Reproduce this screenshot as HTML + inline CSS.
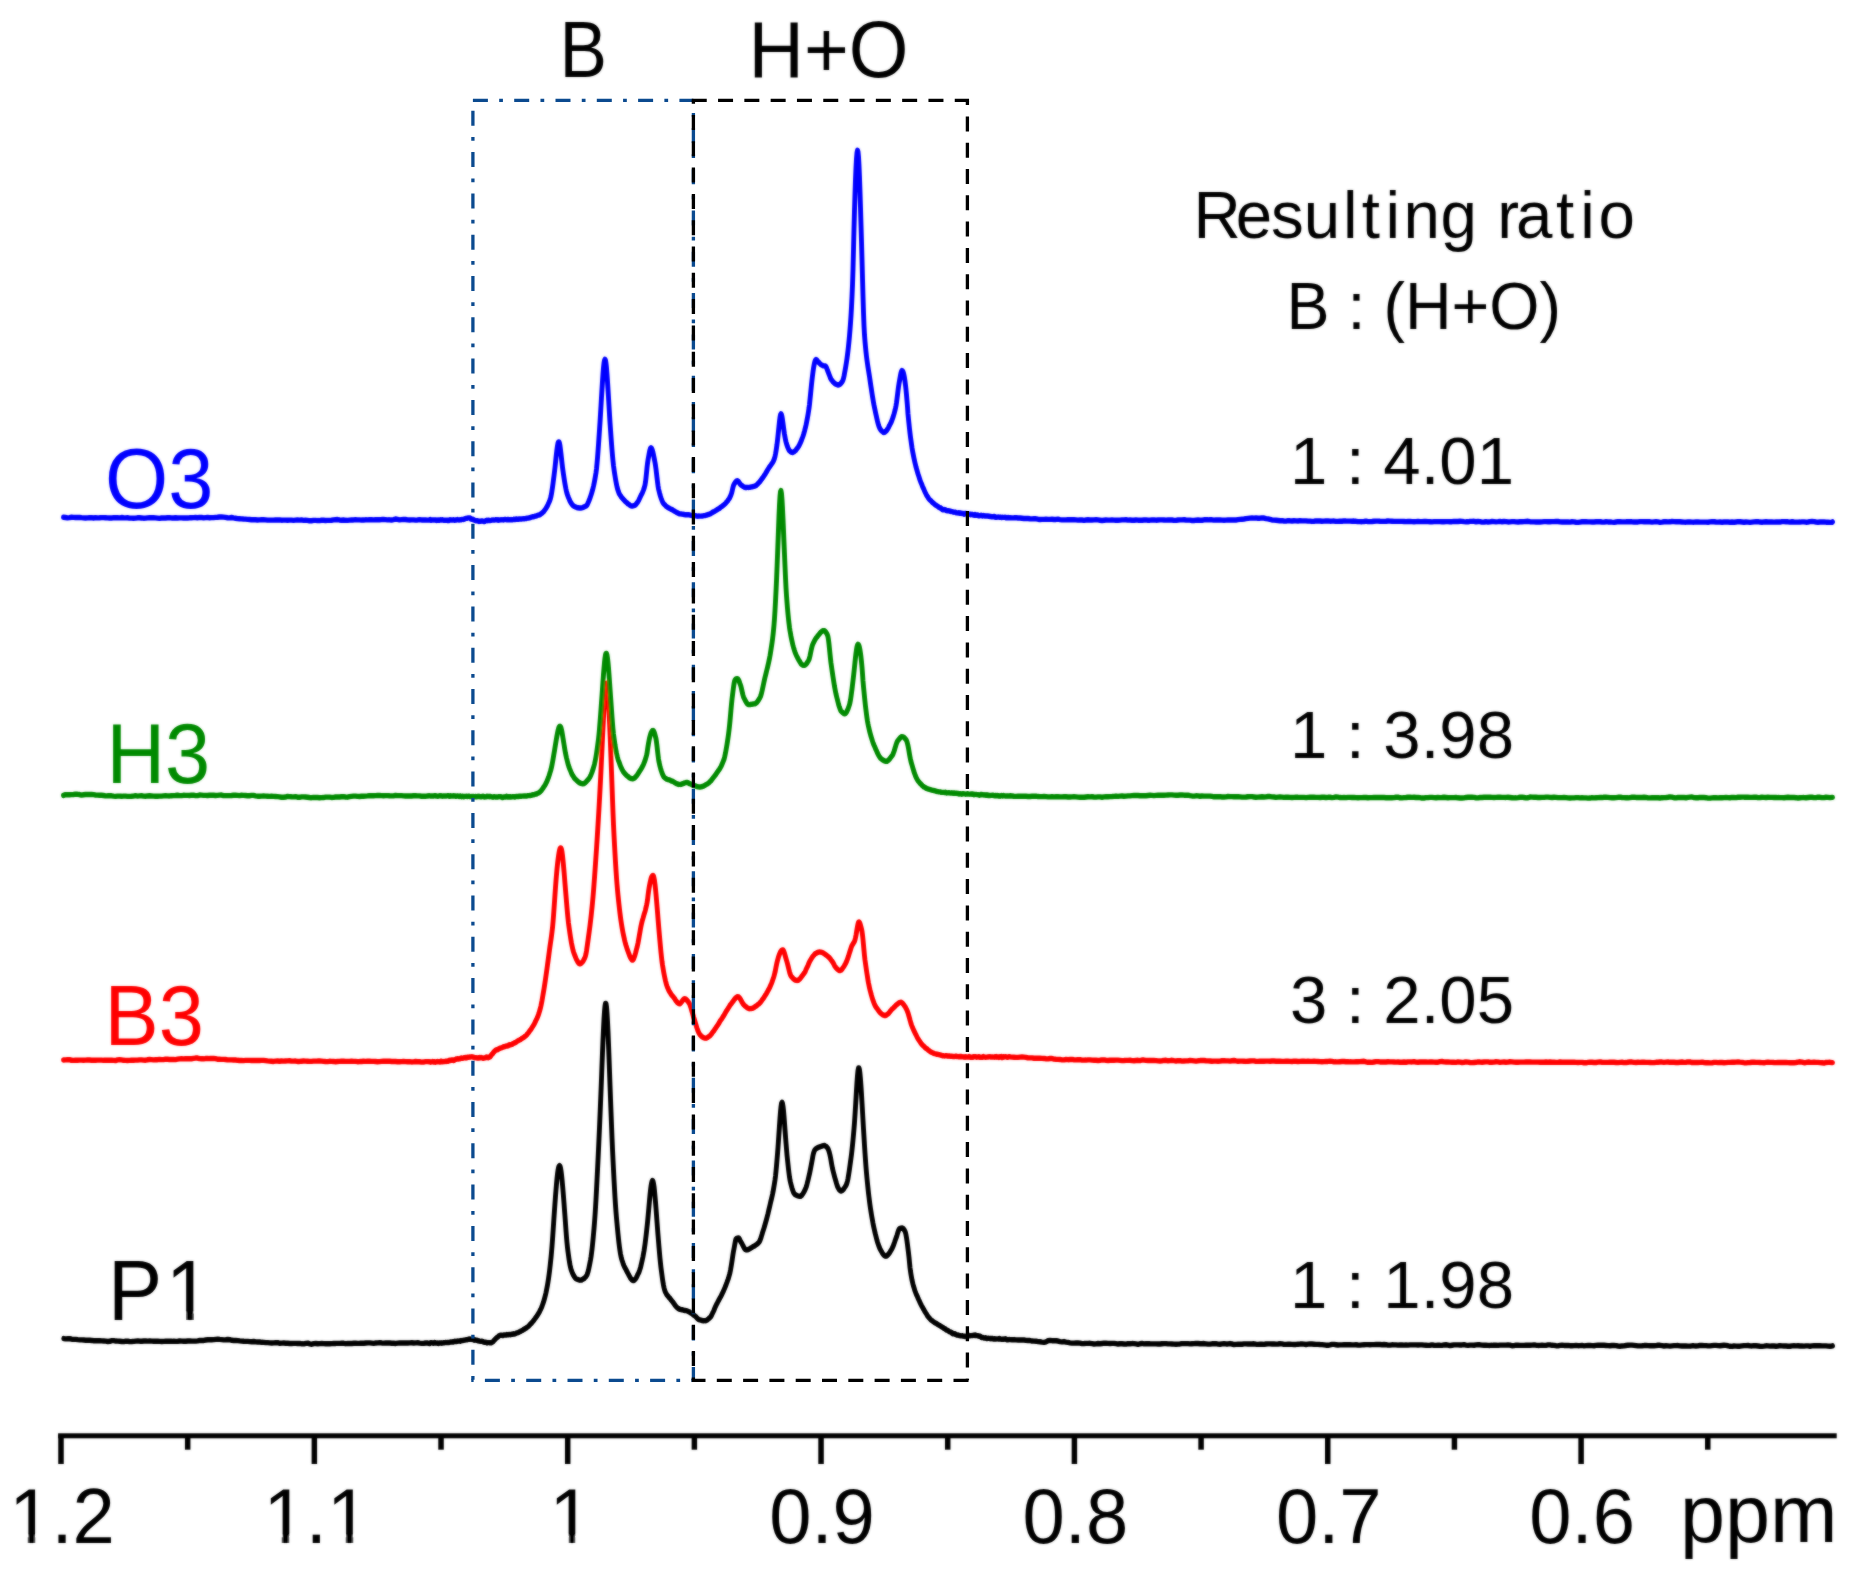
<!DOCTYPE html>
<html lang="en"><head><meta charset="utf-8"><title>NMR spectra</title>
<style>
html,body{margin:0;padding:0;background:#fff;}
body{width:1861px;height:1581px;overflow:hidden;}
svg{display:block;}
text{font-family:"Liberation Sans",sans-serif;}
.ax{font-size:76.5px;fill:#000;}
.lab{font-size:82px;}
.cal{fill:#000;}
</style></head><body>
<svg width="1861" height="1581" viewBox="0 0 1861 1581">
<rect width="1861" height="1581" fill="#fff"/>
<defs><filter id="soft" filterUnits="userSpaceOnUse" x="0" y="0" width="1861" height="1581"><feGaussianBlur in="SourceGraphic" stdDeviation="0.8" result="b"/><feComposite in="b" in2="SourceGraphic" operator="arithmetic" k1="0" k2="0.5" k3="0.50" k4="0"/></filter></defs>
<g filter="url(#soft)">
<g fill="none" stroke-linejoin="round" stroke-linecap="round" stroke-width="4.90" transform="scale(1,1.100)">
<path stroke="#000000" d="M63.8,1216.88 65.8,1217.11 67.8,1217.09 69.8,1217.05 71.8,1217.46 73.8,1217.60 75.8,1217.60 77.8,1217.87 79.8,1218.03 81.8,1218.12 83.8,1218.23 85.8,1218.35 87.8,1218.31 89.8,1218.43 91.8,1218.58 93.8,1218.82 95.8,1218.86 97.8,1218.83 99.8,1218.83 101.8,1218.99 103.8,1219.11 105.8,1219.23 107.8,1219.52 109.8,1219.37 111.8,1218.76 113.8,1218.80 115.8,1219.15 117.8,1219.24 119.8,1219.34 121.8,1219.50 123.8,1219.65 125.8,1219.22 127.8,1219.31 129.8,1219.70 131.8,1219.60 133.8,1219.45 135.8,1219.17 137.8,1219.00 139.8,1219.26 141.8,1219.27 143.8,1219.06 145.8,1219.12 147.8,1219.21 149.8,1219.14 151.8,1219.25 153.8,1219.33 155.8,1219.30 157.8,1219.26 159.8,1219.45 161.8,1219.53 163.8,1219.38 165.8,1219.23 167.8,1219.37 169.8,1219.32 171.8,1219.38 173.8,1219.23 175.8,1219.42 177.8,1219.29 179.8,1219.07 181.8,1219.19 183.8,1219.33 185.8,1219.31 187.8,1219.09 189.8,1219.07 191.8,1219.24 193.8,1219.16 195.8,1219.16 197.8,1219.01 199.8,1218.55 201.8,1218.61 203.8,1218.62 205.8,1218.19 207.8,1217.93 209.8,1218.01 211.8,1217.95 213.8,1217.89 215.8,1217.63 217.8,1217.45 219.8,1217.65 221.8,1217.80 223.8,1218.03 225.8,1217.98 227.8,1217.74 229.8,1217.94 231.8,1218.45 233.8,1218.59 235.8,1218.51 237.8,1218.71 239.8,1218.98 241.8,1219.18 243.8,1219.37 245.8,1219.41 247.8,1219.45 249.8,1219.62 251.8,1219.79 253.8,1219.54 255.8,1219.85 257.8,1220.04 259.8,1220.00 261.8,1220.27 263.8,1220.37 265.8,1220.59 267.8,1220.61 269.8,1220.79 271.8,1220.96 273.8,1220.83 275.8,1220.58 277.8,1220.65 279.8,1221.15 281.8,1221.03 283.8,1220.93 285.8,1221.08 287.8,1221.19 289.8,1221.36 291.8,1221.33 293.8,1221.28 295.8,1221.26 297.8,1221.38 299.8,1221.32 301.8,1221.63 303.8,1221.73 305.8,1221.20 307.8,1221.06 309.8,1221.69 311.8,1222.02 313.8,1221.49 315.8,1221.34 317.8,1221.57 319.8,1221.44 321.8,1221.41 323.8,1221.50 325.8,1221.60 327.8,1221.51 329.8,1221.54 331.8,1221.44 333.8,1221.30 335.8,1221.30 337.8,1221.25 339.8,1221.29 341.8,1221.13 343.8,1221.19 345.8,1221.53 347.8,1221.39 349.8,1221.31 351.8,1221.32 353.8,1221.17 355.8,1221.16 357.8,1221.26 359.8,1221.16 361.8,1220.98 363.8,1221.15 365.8,1220.96 367.8,1220.77 369.8,1220.78 371.8,1220.98 373.8,1221.19 375.8,1220.87 377.8,1220.79 379.8,1220.57 381.8,1220.86 383.8,1221.07 385.8,1220.89 387.8,1220.80 389.8,1220.96 391.8,1221.09 393.8,1221.19 395.8,1221.32 397.8,1221.03 399.8,1220.81 401.8,1220.85 403.8,1220.90 405.8,1220.92 407.8,1220.92 409.8,1220.84 411.8,1220.67 413.8,1220.92 415.8,1220.79 417.8,1220.70 419.8,1221.03 421.8,1221.21 423.8,1221.09 425.8,1220.91 427.8,1220.92 429.8,1221.42 430.0,1221.17 430.5,1220.71 431.0,1220.71 431.5,1220.78 432.0,1220.64 432.5,1220.82 433.0,1220.91 433.5,1221.16 434.0,1220.99 434.5,1220.48 435.0,1220.66 435.5,1220.69 436.0,1221.02 436.5,1221.04 437.0,1220.95 437.5,1220.86 438.0,1221.30 438.5,1221.32 439.0,1220.86 439.5,1220.87 440.0,1220.81 440.5,1220.79 441.0,1220.78 441.5,1221.09 442.0,1220.80 442.5,1220.78 443.0,1220.88 443.5,1220.72 444.0,1220.68 444.5,1220.64 445.0,1220.60 445.5,1220.45 446.0,1220.50 446.5,1220.53 447.0,1220.51 447.5,1220.50 448.0,1220.48 448.5,1220.54 449.0,1220.37 449.5,1220.25 450.0,1220.12 450.5,1220.02 451.0,1219.94 451.5,1220.06 452.0,1219.84 452.5,1219.82 453.0,1219.98 453.5,1219.95 454.0,1219.65 454.5,1219.39 455.0,1219.66 455.5,1219.62 456.0,1219.38 456.5,1219.52 457.0,1219.30 457.5,1219.15 458.0,1219.26 458.5,1219.25 459.0,1219.14 459.5,1218.98 460.0,1219.28 460.5,1218.94 461.0,1218.69 461.5,1218.88 462.0,1218.80 462.5,1218.74 463.0,1218.58 463.5,1218.52 464.0,1218.44 464.5,1218.27 465.0,1218.30 465.5,1218.07 466.0,1217.89 466.5,1217.98 467.0,1217.98 467.5,1217.76 468.0,1217.63 468.5,1217.65 469.0,1217.31 469.5,1217.32 470.0,1217.44 470.5,1217.31 471.0,1217.47 471.5,1217.60 472.0,1217.69 472.5,1217.48 473.0,1217.54 473.5,1217.64 474.0,1217.62 474.5,1218.32 475.0,1218.08 475.5,1218.06 476.0,1218.41 476.5,1218.36 477.0,1218.26 477.5,1218.73 478.0,1218.97 478.5,1218.88 479.0,1219.00 479.5,1219.18 480.0,1219.16 480.5,1219.40 481.0,1219.48 481.5,1219.35 482.0,1219.32 482.5,1219.54 483.0,1219.70 483.5,1220.04 484.0,1220.13 484.5,1220.25 485.0,1220.27 485.5,1220.28 486.0,1220.27 486.5,1220.61 487.0,1220.85 487.5,1220.58 488.0,1220.49 488.5,1220.57 489.0,1220.56 489.5,1220.57 490.0,1220.69 490.5,1220.73 491.0,1220.81 491.5,1220.49 492.0,1220.26 492.5,1220.02 493.0,1219.60 493.5,1219.33 494.0,1218.64 494.5,1218.08 495.0,1217.72 495.5,1217.26 496.0,1216.67 496.5,1216.30 497.0,1215.84 497.5,1215.79 498.0,1215.30 498.5,1214.75 499.0,1214.41 499.5,1214.25 500.0,1214.08 500.5,1213.83 501.0,1213.78 501.5,1213.83 502.0,1213.84 502.5,1214.04 503.0,1214.05 503.5,1213.84 504.0,1213.71 504.5,1213.50 505.0,1213.67 505.5,1213.67 506.0,1213.76 506.5,1213.73 507.0,1213.22 507.5,1213.33 508.0,1213.31 508.5,1213.38 509.0,1213.15 509.5,1213.18 510.0,1213.34 510.5,1213.37 511.0,1213.19 511.5,1212.95 512.0,1212.95 512.5,1213.09 513.0,1212.82 513.5,1212.51 514.0,1212.72 514.5,1212.69 515.0,1212.54 515.5,1212.27 516.0,1212.13 516.5,1211.79 517.0,1211.73 517.5,1211.52 518.0,1211.50 518.5,1211.32 519.0,1210.86 519.5,1210.67 520.0,1210.53 520.5,1210.37 521.0,1210.08 521.5,1209.73 522.0,1209.56 522.5,1209.40 523.0,1209.16 523.5,1208.68 524.0,1208.45 524.5,1208.28 525.0,1207.86 525.5,1207.56 526.0,1207.39 526.5,1207.10 527.0,1206.67 527.5,1206.34 528.0,1205.99 528.5,1205.64 529.0,1205.16 529.5,1204.71 530.0,1204.16 530.5,1203.70 531.0,1203.27 531.5,1202.84 532.0,1202.28 532.5,1201.68 533.0,1201.21 533.5,1200.67 534.0,1200.04 534.5,1199.43 535.0,1198.80 535.5,1198.14 536.0,1197.61 536.5,1196.98 537.0,1196.27 537.5,1195.60 538.0,1194.77 538.5,1194.01 539.0,1193.28 539.5,1192.53 540.0,1191.49 540.5,1190.64 541.0,1189.72 541.5,1188.67 542.0,1187.58 542.5,1186.27 543.0,1184.96 543.5,1183.73 544.0,1182.19 544.5,1180.56 545.0,1178.82 545.5,1177.07 546.0,1175.06 546.5,1172.84 547.0,1170.63 547.5,1168.21 548.0,1165.54 548.5,1162.56 549.0,1159.26 549.5,1155.70 550.0,1151.79 550.5,1147.61 551.0,1143.25 551.5,1138.46 552.0,1132.96 552.5,1126.84 553.0,1120.25 553.5,1113.37 554.0,1106.65 554.5,1100.05 555.0,1093.62 555.5,1087.46 556.0,1081.71 556.5,1076.30 557.0,1071.39 557.5,1067.25 558.0,1063.94 558.5,1061.53 559.0,1060.15 559.5,1059.69 560.0,1060.19 560.5,1061.71 561.0,1064.24 561.5,1067.75 562.0,1072.10 562.5,1077.07 563.0,1082.37 563.5,1087.99 564.0,1093.93 564.5,1099.95 565.0,1106.04 565.5,1112.40 566.0,1118.73 566.5,1124.70 567.0,1129.87 567.5,1134.23 568.0,1137.91 568.5,1141.29 569.0,1144.55 569.5,1147.41 570.0,1149.91 570.5,1152.11 571.0,1153.85 571.5,1155.15 572.0,1156.34 572.5,1157.48 573.0,1158.49 573.5,1159.35 574.0,1160.16 574.5,1160.83 575.0,1161.53 575.5,1162.07 576.0,1162.40 576.5,1162.65 577.0,1162.86 577.5,1162.98 578.0,1163.17 578.5,1163.40 579.0,1163.56 579.5,1163.67 580.0,1163.81 580.5,1163.72 581.0,1163.71 581.5,1163.63 582.0,1163.37 582.5,1163.07 583.0,1162.81 583.5,1162.62 584.0,1162.35 584.5,1161.92 585.0,1161.45 585.5,1160.97 586.0,1160.47 586.5,1159.78 587.0,1158.98 587.5,1157.75 588.0,1156.20 588.5,1154.54 589.0,1152.36 589.5,1150.09 590.0,1147.81 590.5,1145.48 591.0,1142.69 591.5,1139.49 592.0,1135.78 592.5,1131.56 593.0,1126.90 593.5,1122.06 594.0,1116.94 594.5,1111.29 595.0,1105.11 595.5,1098.09 596.0,1090.28 596.5,1081.81 597.0,1072.90 597.5,1063.70 598.0,1054.60 598.5,1045.14 599.0,1035.14 599.5,1025.01 600.0,1014.39 600.5,1003.23 601.0,992.05 601.5,980.51 602.0,968.29 602.5,956.49 603.0,945.41 603.5,935.30 604.0,926.55 604.5,919.59 605.0,914.62 605.5,912.15 606.0,912.32 606.5,915.10 607.0,920.54 607.5,928.24 608.0,937.85 608.5,948.94 609.0,960.94 609.5,973.66 610.0,986.40 610.5,998.67 611.0,1010.80 611.5,1022.61 612.0,1034.11 612.5,1044.86 613.0,1054.48 613.5,1063.55 614.0,1072.30 614.5,1080.64 615.0,1088.57 615.5,1095.70 616.0,1101.88 616.5,1107.20 617.0,1112.28 617.5,1117.17 618.0,1121.81 618.5,1126.28 619.0,1130.37 619.5,1134.00 620.0,1137.16 620.5,1139.95 621.0,1142.28 621.5,1144.16 622.0,1145.62 622.5,1146.93 623.0,1148.40 623.5,1149.73 624.0,1150.79 624.5,1151.77 625.0,1152.62 625.5,1153.35 626.0,1154.17 626.5,1155.07 627.0,1155.98 627.5,1156.85 628.0,1157.71 628.5,1158.55 629.0,1159.47 629.5,1160.28 630.0,1161.10 630.5,1161.95 631.0,1162.53 631.5,1163.02 632.0,1163.62 632.5,1164.01 633.0,1164.07 633.5,1164.19 634.0,1164.05 634.5,1163.62 635.0,1163.13 635.5,1162.58 636.0,1161.92 636.5,1161.21 637.0,1160.26 637.5,1159.17 638.0,1158.23 638.5,1157.39 639.0,1156.46 639.5,1155.18 640.0,1153.80 640.5,1152.32 641.0,1150.51 641.5,1148.55 642.0,1146.48 642.5,1144.45 643.0,1142.33 643.5,1139.81 644.0,1137.28 644.5,1134.37 645.0,1131.22 645.5,1127.72 646.0,1123.86 646.5,1119.88 647.0,1115.72 647.5,1111.45 648.0,1106.68 648.5,1101.60 649.0,1096.39 649.5,1091.29 650.0,1086.48 650.5,1082.18 651.0,1078.50 651.5,1075.82 652.0,1073.99 652.5,1073.20 653.0,1073.82 653.5,1075.74 654.0,1078.55 654.5,1082.58 655.0,1087.44 655.5,1092.74 656.0,1098.53 656.5,1104.60 657.0,1110.78 657.5,1116.84 658.0,1122.77 658.5,1128.29 659.0,1133.77 659.5,1139.11 660.0,1144.01 660.5,1148.52 661.0,1152.55 661.5,1156.07 662.0,1159.51 662.5,1162.80 663.0,1165.71 663.5,1168.29 664.0,1170.55 664.5,1172.44 665.0,1173.81 665.5,1174.79 666.0,1175.64 666.5,1176.52 667.0,1177.28 667.5,1177.76 668.0,1178.36 668.5,1178.86 669.0,1179.46 669.5,1179.90 670.0,1180.33 670.5,1181.00 671.0,1181.67 671.5,1182.19 672.0,1182.80 672.5,1183.31 673.0,1183.83 673.5,1184.59 674.0,1185.20 674.5,1185.78 675.0,1186.51 675.5,1187.10 676.0,1187.61 676.5,1188.16 677.0,1188.58 677.5,1189.02 678.0,1189.33 678.5,1189.65 679.0,1189.84 679.5,1190.15 680.0,1190.32 680.5,1190.47 681.0,1190.48 681.5,1190.61 682.0,1190.74 682.5,1190.65 683.0,1190.84 683.5,1191.11 684.0,1191.23 684.5,1191.32 685.0,1191.37 685.5,1191.48 686.0,1191.52 686.5,1191.57 687.0,1191.71 687.5,1191.95 688.0,1192.17 688.5,1192.31 689.0,1192.36 689.5,1192.69 690.0,1193.12 690.5,1193.47 691.0,1193.71 691.5,1193.93 692.0,1194.22 692.5,1194.74 693.0,1195.00 693.5,1195.43 694.0,1195.78 694.5,1196.02 695.0,1196.35 695.5,1196.78 696.0,1197.18 696.5,1197.70 697.0,1198.17 697.5,1198.63 698.0,1199.09 698.5,1199.45 699.0,1199.65 699.5,1199.89 700.0,1199.95 700.5,1200.01 701.0,1200.12 701.5,1200.25 702.0,1200.47 702.5,1200.60 703.0,1200.66 703.5,1200.64 704.0,1200.65 704.5,1200.61 705.0,1200.60 705.5,1200.65 706.0,1200.52 706.5,1200.26 707.0,1200.04 707.5,1199.64 708.0,1199.33 708.5,1198.95 709.0,1198.52 709.5,1198.10 710.0,1197.78 710.5,1197.31 711.0,1196.68 711.5,1195.82 712.0,1194.86 712.5,1193.94 713.0,1192.95 713.5,1192.03 714.0,1191.05 714.5,1189.91 715.0,1188.78 715.5,1187.76 716.0,1186.80 716.5,1185.81 717.0,1185.00 717.5,1184.16 718.0,1183.25 718.5,1182.41 719.0,1181.58 719.5,1180.68 720.0,1179.85 720.5,1179.10 721.0,1178.28 721.5,1177.43 722.0,1176.36 722.5,1175.38 723.0,1174.62 723.5,1173.67 724.0,1172.52 724.5,1171.42 725.0,1170.37 725.5,1169.20 726.0,1168.08 726.5,1166.87 727.0,1165.70 727.5,1164.39 728.0,1163.18 728.5,1161.87 729.0,1160.28 729.5,1158.63 730.0,1156.76 730.5,1154.58 731.0,1152.04 731.5,1149.32 732.0,1146.32 732.5,1143.30 733.0,1140.21 733.5,1137.53 734.0,1135.18 734.5,1132.69 735.0,1130.14 735.5,1127.80 736.0,1126.30 736.5,1125.86 737.0,1125.79 737.5,1125.57 738.0,1125.41 738.5,1125.42 739.0,1125.67 739.5,1126.41 740.0,1127.46 740.5,1128.38 741.0,1129.17 741.5,1129.84 742.0,1130.75 742.5,1131.68 743.0,1132.42 743.5,1133.33 744.0,1134.19 744.5,1134.99 745.0,1135.62 745.5,1136.04 746.0,1136.26 746.5,1136.31 747.0,1136.24 747.5,1136.15 748.0,1136.03 748.5,1135.85 749.0,1135.56 749.5,1135.32 750.0,1135.13 750.5,1134.78 751.0,1134.48 751.5,1134.25 752.0,1133.94 752.5,1133.65 753.0,1133.36 753.5,1133.05 754.0,1132.91 754.5,1132.74 755.0,1132.39 755.5,1131.99 756.0,1131.74 756.5,1131.39 757.0,1131.06 757.5,1130.68 758.0,1130.23 758.5,1129.86 759.0,1129.29 759.5,1128.55 760.0,1127.61 760.5,1126.52 761.0,1125.19 761.5,1123.65 762.0,1122.19 762.5,1120.61 763.0,1119.20 763.5,1117.83 764.0,1116.43 764.5,1114.93 765.0,1113.29 765.5,1111.70 766.0,1110.09 766.5,1108.50 767.0,1106.78 767.5,1104.97 768.0,1103.33 768.5,1101.30 769.0,1099.32 769.5,1097.46 770.0,1095.53 770.5,1093.55 771.0,1091.59 771.5,1089.76 772.0,1087.77 772.5,1085.78 773.0,1083.56 773.5,1081.03 774.0,1078.44 774.5,1075.69 775.0,1072.72 775.5,1069.13 776.0,1064.80 776.5,1059.87 777.0,1054.64 777.5,1049.05 778.0,1043.11 778.5,1036.57 779.0,1029.80 779.5,1022.94 780.0,1016.44 780.5,1010.78 781.0,1006.19 781.5,1003.14 782.0,1002.06 782.5,1003.10 783.0,1005.64 783.5,1009.62 784.0,1014.78 784.5,1020.70 785.0,1027.02 785.5,1033.14 786.0,1039.04 786.5,1044.61 787.0,1049.97 787.5,1054.35 788.0,1058.66 788.5,1062.85 789.0,1066.60 789.5,1070.04 790.0,1072.86 790.5,1074.89 791.0,1076.71 791.5,1078.39 792.0,1080.08 792.5,1081.58 793.0,1082.80 793.5,1084.02 794.0,1084.82 794.5,1085.39 795.0,1085.89 795.5,1086.20 796.0,1086.36 796.5,1086.60 797.0,1086.81 797.5,1087.12 798.0,1087.24 798.5,1087.33 799.0,1087.46 799.5,1087.40 800.0,1087.48 800.5,1087.54 801.0,1087.25 801.5,1086.91 802.0,1086.35 802.5,1085.67 803.0,1085.01 803.5,1084.29 804.0,1083.45 804.5,1082.58 805.0,1081.70 805.5,1080.70 806.0,1079.56 806.5,1078.17 807.0,1076.51 807.5,1074.64 808.0,1072.90 808.5,1070.97 809.0,1068.99 809.5,1067.07 810.0,1064.93 810.5,1062.59 811.0,1060.21 811.5,1057.85 812.0,1055.50 812.5,1052.87 813.0,1050.29 813.5,1048.39 814.0,1047.08 814.5,1045.89 815.0,1045.10 815.5,1044.63 816.0,1044.27 816.5,1044.03 817.0,1043.68 817.5,1043.51 818.0,1043.24 818.5,1043.02 819.0,1042.90 819.5,1042.71 820.0,1042.58 820.5,1042.35 821.0,1042.22 821.5,1042.05 822.0,1041.91 822.5,1041.73 823.0,1041.57 823.5,1041.52 824.0,1041.37 824.5,1041.38 825.0,1041.63 825.5,1041.88 826.0,1042.13 826.5,1042.46 827.0,1042.98 827.5,1043.49 828.0,1044.31 828.5,1045.35 829.0,1046.74 829.5,1048.31 830.0,1050.11 830.5,1052.29 831.0,1054.84 831.5,1057.49 832.0,1059.96 832.5,1062.24 833.0,1064.21 833.5,1066.02 834.0,1067.76 834.5,1069.47 835.0,1071.11 835.5,1072.64 836.0,1074.11 836.5,1075.78 837.0,1077.28 837.5,1078.58 838.0,1079.59 838.5,1080.42 839.0,1081.18 839.5,1081.82 840.0,1082.17 840.5,1082.57 841.0,1082.78 841.5,1082.56 842.0,1082.37 842.5,1082.11 843.0,1081.65 843.5,1081.18 844.0,1080.49 844.5,1079.77 845.0,1079.09 845.5,1078.35 846.0,1077.64 846.5,1076.76 847.0,1075.37 847.5,1073.51 848.0,1071.40 848.5,1068.68 849.0,1065.76 849.5,1062.70 850.0,1059.44 850.5,1056.14 851.0,1052.88 851.5,1049.33 852.0,1045.38 852.5,1041.06 853.0,1036.32 853.5,1031.37 854.0,1026.21 854.5,1020.50 855.0,1013.67 855.5,1006.28 856.0,998.63 856.5,990.88 857.0,983.78 857.5,977.75 858.0,973.22 858.5,970.88 859.0,970.84 859.5,972.52 860.0,976.28 860.5,981.45 861.0,987.70 861.5,994.79 862.0,1002.61 862.5,1010.57 863.0,1018.64 863.5,1026.37 864.0,1033.90 864.5,1041.32 865.0,1048.34 865.5,1054.76 866.0,1060.83 866.5,1066.30 867.0,1071.29 867.5,1075.98 868.0,1080.36 868.5,1084.61 869.0,1088.43 869.5,1092.13 870.0,1095.60 870.5,1098.75 871.0,1101.64 871.5,1104.43 872.0,1107.02 872.5,1109.59 873.0,1112.11 873.5,1114.36 874.0,1116.45 874.5,1118.44 875.0,1120.45 875.5,1122.33 876.0,1124.04 876.5,1125.82 877.0,1127.61 877.5,1129.14 878.0,1130.54 878.5,1131.85 879.0,1133.11 879.5,1134.29 880.0,1135.31 880.5,1136.12 881.0,1137.03 881.5,1137.75 882.0,1138.55 882.5,1139.38 883.0,1140.01 883.5,1140.58 884.0,1141.15 884.5,1141.57 885.0,1141.75 885.5,1141.96 886.0,1142.00 886.5,1141.87 887.0,1141.64 887.5,1141.20 888.0,1140.71 888.5,1140.20 889.0,1139.61 889.5,1138.92 890.0,1138.26 890.5,1137.45 891.0,1136.77 891.5,1135.95 892.0,1135.10 892.5,1134.21 893.0,1133.22 893.5,1131.98 894.0,1130.67 894.5,1129.46 895.0,1128.10 895.5,1126.78 896.0,1125.61 896.5,1124.41 897.0,1123.00 897.5,1121.39 898.0,1119.92 898.5,1118.63 899.0,1117.60 899.5,1117.03 900.0,1116.79 900.5,1116.69 901.0,1116.53 901.5,1116.43 902.0,1116.35 902.5,1116.44 903.0,1116.69 903.5,1117.23 904.0,1117.88 904.5,1118.58 905.0,1119.39 905.5,1120.64 906.0,1122.69 906.5,1125.20 907.0,1128.23 907.5,1131.77 908.0,1135.40 908.5,1139.04 909.0,1142.94 909.5,1147.72 910.0,1152.37 910.5,1155.75 911.0,1158.61 911.5,1161.23 912.0,1163.61 912.5,1165.59 913.0,1167.49 913.5,1169.21 914.0,1170.64 914.5,1172.13 915.0,1173.65 915.5,1174.76 916.0,1175.97 916.5,1177.02 917.0,1178.02 917.5,1178.97 918.0,1180.05 918.5,1181.13 919.0,1182.04 919.5,1183.09 920.0,1184.11 920.5,1185.10 921.0,1185.91 921.5,1186.86 922.0,1187.72 922.5,1188.45 923.0,1189.23 923.5,1190.17 924.0,1190.86 924.5,1191.66 925.0,1192.54 925.5,1193.28 926.0,1193.89 926.5,1194.62 927.0,1195.37 927.5,1196.19 928.0,1196.89 928.5,1197.32 929.0,1197.92 929.5,1198.33 930.0,1198.91 930.5,1199.40 931.0,1199.96 931.5,1200.27 932.0,1200.53 932.5,1200.87 933.0,1201.22 933.5,1201.58 934.0,1201.90 934.5,1202.27 935.0,1202.62 935.5,1202.81 936.0,1202.92 936.5,1203.14 937.0,1203.51 937.5,1203.91 938.0,1204.13 938.5,1204.38 939.0,1204.68 939.5,1204.89 940.0,1205.20 940.5,1205.60 941.0,1205.83 941.5,1206.09 942.0,1206.44 942.5,1206.60 943.0,1206.82 943.5,1207.19 944.0,1207.64 944.5,1207.80 945.0,1207.86 945.5,1208.27 946.0,1208.82 946.5,1209.18 947.0,1209.05 947.5,1209.35 948.0,1209.65 948.5,1210.04 949.0,1210.36 949.5,1210.72 950.0,1210.81 950.5,1210.82 951.0,1211.06 951.5,1211.48 952.0,1211.90 952.5,1212.45 953.0,1212.49 953.5,1212.24 954.0,1212.45 954.5,1212.41 955.0,1212.57 955.5,1213.13 956.0,1213.29 956.5,1213.29 957.0,1213.67 957.5,1213.48 958.0,1213.54 958.5,1213.97 959.0,1214.11 959.5,1214.14 960.0,1214.27 960.5,1214.41 961.0,1214.46 961.5,1214.41 962.0,1214.20 962.5,1214.36 963.0,1214.70 963.5,1214.67 964.0,1214.85 964.5,1214.94 965.0,1214.71 965.5,1214.80 966.0,1215.04 966.5,1214.93 967.0,1214.99 967.5,1214.91 968.0,1214.65 968.5,1214.36 969.0,1214.12 969.5,1214.08 970.0,1214.31 970.5,1214.31 971.0,1214.20 971.5,1214.21 972.0,1214.06 972.5,1214.17 973.0,1214.03 973.5,1213.91 974.0,1213.87 974.5,1213.98 975.0,1214.17 975.5,1213.69 976.0,1213.84 976.5,1214.18 977.0,1214.21 977.5,1214.27 978.0,1214.58 978.5,1214.36 979.0,1214.43 979.5,1214.80 980.0,1214.68 980.5,1214.80 981.0,1215.53 981.5,1215.89 982.0,1215.95 982.5,1215.88 983.0,1215.93 983.5,1215.99 984.0,1216.42 984.5,1216.47 985.0,1216.30 985.5,1216.04 986.0,1216.47 986.5,1216.79 987.0,1216.81 987.5,1216.72 988.0,1216.57 988.5,1216.57 989.0,1216.75 989.5,1216.80 990.0,1216.76 990.5,1216.81 991.0,1217.00 991.5,1216.71 992.0,1216.75 992.5,1216.84 993.0,1217.16 993.5,1217.34 994.0,1217.33 994.5,1217.13 995.0,1216.95 995.5,1217.38 996.0,1217.30 996.5,1217.12 997.0,1217.11 997.5,1217.13 998.0,1217.26 998.5,1217.27 999.0,1217.04 999.5,1216.77 1000.0,1217.15 1000.5,1217.43 1001.0,1217.45 1001.5,1217.39 1002.0,1217.52 1002.5,1217.60 1003.0,1217.51 1003.5,1217.59 1004.0,1217.16 1004.5,1217.13 1005.0,1217.17 1005.5,1217.03 1006.0,1217.35 1006.5,1217.87 1007.0,1217.96 1007.5,1217.87 1008.0,1218.03 1008.5,1217.84 1009.0,1217.69 1009.5,1217.78 1010.0,1217.83 1012.0,1217.91 1014.0,1217.79 1016.0,1218.10 1018.0,1218.15 1020.0,1218.23 1022.0,1218.03 1024.0,1218.21 1026.0,1218.52 1028.0,1218.67 1030.0,1218.64 1032.0,1219.12 1034.0,1219.22 1036.0,1219.27 1038.0,1219.66 1040.0,1219.79 1042.0,1220.11 1044.0,1220.35 1046.0,1219.82 1048.0,1218.84 1050.0,1218.57 1052.0,1218.81 1054.0,1218.90 1056.0,1218.88 1058.0,1219.13 1060.0,1219.68 1062.0,1219.95 1064.0,1219.58 1066.0,1220.07 1068.0,1220.41 1070.0,1220.78 1072.0,1221.04 1074.0,1221.04 1076.0,1220.94 1078.0,1220.89 1080.0,1221.02 1082.0,1221.47 1084.0,1221.40 1086.0,1221.28 1088.0,1221.26 1090.0,1221.19 1092.0,1221.50 1094.0,1221.78 1096.0,1221.66 1098.0,1221.35 1100.0,1221.60 1102.0,1221.33 1104.0,1221.05 1106.0,1221.13 1108.0,1221.28 1110.0,1221.42 1112.0,1221.27 1114.0,1221.21 1116.0,1221.54 1118.0,1221.86 1120.0,1221.60 1122.0,1221.63 1124.0,1221.80 1126.0,1221.97 1128.0,1221.49 1130.0,1221.62 1132.0,1221.42 1134.0,1221.43 1136.0,1221.77 1138.0,1222.16 1140.0,1221.58 1142.0,1221.34 1144.0,1221.72 1146.0,1221.56 1148.0,1221.56 1150.0,1221.65 1152.0,1221.67 1154.0,1221.66 1156.0,1221.73 1158.0,1221.81 1160.0,1221.83 1162.0,1221.61 1164.0,1221.46 1166.0,1221.48 1168.0,1221.73 1170.0,1221.75 1172.0,1221.82 1174.0,1221.93 1176.0,1222.05 1178.0,1221.89 1180.0,1221.78 1182.0,1221.47 1184.0,1221.43 1186.0,1221.52 1188.0,1221.52 1190.0,1221.69 1192.0,1221.53 1194.0,1221.51 1196.0,1221.23 1198.0,1221.37 1200.0,1221.60 1202.0,1221.57 1204.0,1221.42 1206.0,1221.72 1208.0,1221.98 1210.0,1221.90 1212.0,1221.65 1214.0,1221.55 1216.0,1221.56 1218.0,1221.91 1220.0,1222.05 1222.0,1221.68 1224.0,1221.47 1226.0,1221.78 1228.0,1221.79 1230.0,1221.38 1232.0,1221.82 1234.0,1222.28 1236.0,1222.15 1238.0,1222.02 1240.0,1222.02 1242.0,1222.02 1244.0,1221.72 1246.0,1221.70 1248.0,1221.87 1250.0,1221.81 1252.0,1221.80 1254.0,1221.63 1256.0,1221.99 1258.0,1222.13 1260.0,1222.01 1262.0,1222.08 1264.0,1222.19 1266.0,1221.81 1268.0,1221.68 1270.0,1221.71 1272.0,1221.79 1274.0,1221.80 1276.0,1221.92 1278.0,1221.82 1280.0,1221.64 1282.0,1221.75 1284.0,1222.17 1286.0,1222.11 1288.0,1222.03 1290.0,1222.07 1292.0,1222.12 1294.0,1222.27 1296.0,1222.22 1298.0,1222.00 1300.0,1221.88 1302.0,1221.82 1304.0,1221.94 1306.0,1222.28 1308.0,1221.97 1310.0,1221.71 1312.0,1221.87 1314.0,1222.03 1316.0,1222.17 1318.0,1222.12 1320.0,1222.30 1322.0,1222.42 1324.0,1222.63 1326.0,1222.90 1328.0,1223.00 1330.0,1222.63 1332.0,1222.14 1334.0,1222.18 1336.0,1222.46 1338.0,1222.75 1340.0,1222.65 1342.0,1222.59 1344.0,1222.43 1346.0,1222.50 1348.0,1222.51 1350.0,1222.39 1352.0,1222.57 1354.0,1222.64 1356.0,1222.51 1358.0,1222.70 1360.0,1222.80 1362.0,1222.56 1364.0,1222.44 1366.0,1222.37 1368.0,1222.35 1370.0,1222.45 1372.0,1222.41 1374.0,1222.38 1376.0,1222.26 1378.0,1222.14 1380.0,1222.29 1382.0,1222.47 1384.0,1222.32 1386.0,1222.47 1388.0,1222.89 1390.0,1222.84 1392.0,1222.56 1394.0,1222.62 1396.0,1222.62 1398.0,1222.83 1400.0,1222.61 1402.0,1222.69 1404.0,1222.84 1406.0,1222.65 1408.0,1222.79 1410.0,1222.60 1412.0,1222.64 1414.0,1222.63 1416.0,1222.66 1418.0,1222.71 1420.0,1222.63 1422.0,1222.57 1424.0,1222.85 1426.0,1222.97 1428.0,1223.08 1430.0,1222.97 1432.0,1222.65 1434.0,1222.97 1436.0,1223.02 1438.0,1222.80 1440.0,1223.00 1442.0,1223.06 1444.0,1222.68 1446.0,1222.48 1448.0,1222.80 1450.0,1223.29 1452.0,1222.93 1454.0,1222.58 1456.0,1222.63 1458.0,1222.60 1460.0,1222.69 1462.0,1222.67 1464.0,1222.40 1466.0,1222.84 1468.0,1223.11 1470.0,1222.88 1472.0,1222.84 1474.0,1222.96 1476.0,1222.63 1478.0,1222.49 1480.0,1222.55 1482.0,1222.80 1484.0,1222.95 1486.0,1222.94 1488.0,1223.05 1490.0,1223.12 1492.0,1223.01 1494.0,1222.79 1496.0,1222.91 1498.0,1223.08 1500.0,1222.81 1502.0,1222.82 1504.0,1222.85 1506.0,1222.84 1508.0,1222.68 1510.0,1222.82 1512.0,1223.41 1514.0,1223.27 1516.0,1222.92 1518.0,1222.98 1520.0,1223.10 1522.0,1223.02 1524.0,1223.07 1526.0,1222.92 1528.0,1222.92 1530.0,1222.97 1532.0,1222.80 1534.0,1222.58 1536.0,1222.92 1538.0,1223.13 1540.0,1223.10 1542.0,1222.94 1544.0,1223.09 1546.0,1223.03 1548.0,1222.65 1550.0,1222.61 1552.0,1222.99 1554.0,1223.02 1556.0,1223.36 1558.0,1223.52 1560.0,1223.10 1562.0,1222.96 1564.0,1223.12 1566.0,1223.19 1568.0,1223.05 1570.0,1223.36 1572.0,1223.44 1574.0,1223.30 1576.0,1223.16 1578.0,1223.35 1580.0,1223.31 1582.0,1223.14 1584.0,1223.47 1586.0,1223.28 1588.0,1223.21 1590.0,1223.15 1592.0,1223.31 1594.0,1223.39 1596.0,1223.04 1598.0,1222.85 1600.0,1222.97 1602.0,1222.92 1604.0,1223.01 1606.0,1223.17 1608.0,1223.30 1610.0,1223.42 1612.0,1223.17 1614.0,1223.23 1616.0,1223.28 1618.0,1223.64 1620.0,1223.83 1622.0,1223.59 1624.0,1223.57 1626.0,1223.20 1628.0,1222.90 1630.0,1222.88 1632.0,1222.89 1634.0,1223.03 1636.0,1223.28 1638.0,1223.55 1640.0,1223.55 1642.0,1223.43 1644.0,1223.24 1646.0,1223.18 1648.0,1223.31 1650.0,1223.39 1652.0,1223.43 1654.0,1223.43 1656.0,1223.25 1658.0,1222.94 1660.0,1223.00 1662.0,1223.26 1664.0,1223.61 1666.0,1223.45 1668.0,1223.57 1670.0,1223.72 1672.0,1223.52 1674.0,1223.33 1676.0,1223.27 1678.0,1223.23 1680.0,1223.47 1682.0,1223.67 1684.0,1223.64 1686.0,1223.64 1688.0,1223.73 1690.0,1223.80 1692.0,1223.45 1694.0,1223.47 1696.0,1223.66 1698.0,1223.57 1700.0,1223.06 1702.0,1223.21 1704.0,1223.33 1706.0,1223.32 1708.0,1223.57 1710.0,1223.54 1712.0,1223.32 1714.0,1223.08 1716.0,1223.09 1718.0,1223.26 1720.0,1223.44 1722.0,1223.18 1724.0,1222.97 1726.0,1223.08 1728.0,1223.41 1730.0,1223.92 1732.0,1224.03 1734.0,1223.64 1736.0,1223.74 1738.0,1223.91 1740.0,1223.83 1742.0,1223.51 1744.0,1223.26 1746.0,1223.26 1748.0,1223.19 1750.0,1223.52 1752.0,1223.59 1754.0,1223.25 1756.0,1223.45 1758.0,1223.68 1760.0,1223.88 1762.0,1223.93 1764.0,1223.75 1766.0,1223.47 1768.0,1223.53 1770.0,1223.73 1772.0,1223.53 1774.0,1223.63 1776.0,1223.86 1778.0,1223.62 1780.0,1223.33 1782.0,1223.49 1784.0,1223.67 1786.0,1223.66 1788.0,1223.87 1790.0,1223.86 1792.0,1223.53 1794.0,1223.46 1796.0,1223.48 1798.0,1223.40 1800.0,1223.59 1802.0,1223.65 1804.0,1223.71 1806.0,1223.50 1808.0,1223.53 1810.0,1223.84 1812.0,1223.54 1814.0,1223.42 1816.0,1223.44 1818.0,1223.47 1820.0,1223.44 1822.0,1223.52 1824.0,1223.48 1826.0,1223.54 1828.0,1223.72 1830.0,1223.81 1832.0,1223.72 1832.5,1223.53"/>
<path stroke="#ff0000" d="M63.5,963.58 65.5,963.49 67.5,963.37 69.5,963.29 71.5,963.91 73.5,963.97 75.5,963.75 77.5,963.85 79.5,963.79 81.5,963.71 83.5,963.87 85.5,963.74 87.5,963.64 89.5,963.64 91.5,963.81 93.5,963.83 95.5,963.85 97.5,963.73 99.5,963.74 101.5,963.70 103.5,963.92 105.5,963.92 107.5,963.91 109.5,963.85 111.5,963.71 113.5,964.02 115.5,964.14 117.5,963.54 119.5,963.32 121.5,963.49 123.5,963.89 125.5,963.95 127.5,964.05 129.5,964.01 131.5,963.88 133.5,963.81 135.5,963.77 137.5,963.79 139.5,963.50 141.5,963.51 143.5,963.73 145.5,963.85 147.5,963.42 149.5,963.20 151.5,963.32 153.5,963.50 155.5,963.42 157.5,963.38 159.5,963.03 161.5,963.31 163.5,963.28 165.5,962.87 167.5,963.01 169.5,963.17 171.5,963.03 173.5,963.16 175.5,963.28 177.5,962.90 179.5,962.60 181.5,962.51 183.5,962.64 185.5,962.53 187.5,962.45 189.5,962.47 191.5,962.47 193.5,962.14 195.5,961.87 197.5,961.88 199.5,962.39 201.5,962.47 203.5,962.56 205.5,962.32 207.5,962.17 209.5,962.33 211.5,962.28 213.5,962.14 215.5,962.41 217.5,962.95 219.5,963.00 221.5,963.04 223.5,963.05 225.5,963.18 227.5,963.53 229.5,963.54 231.5,963.51 233.5,963.63 235.5,963.66 237.5,963.91 239.5,964.07 241.5,963.95 243.5,964.15 245.5,964.00 247.5,964.00 249.5,963.94 251.5,964.04 253.5,964.13 255.5,964.08 257.5,964.04 259.5,964.05 261.5,964.01 263.5,963.97 265.5,964.23 267.5,964.48 269.5,964.63 271.5,964.74 273.5,964.95 275.5,964.65 277.5,964.54 279.5,964.76 281.5,964.52 283.5,964.61 285.5,964.49 287.5,964.48 289.5,964.34 291.5,964.67 293.5,964.62 295.5,964.58 297.5,964.97 299.5,964.94 301.5,964.72 303.5,964.59 305.5,964.68 307.5,964.76 309.5,964.93 311.5,964.92 313.5,964.68 315.5,964.63 317.5,964.60 319.5,964.51 321.5,964.64 323.5,964.83 325.5,965.04 327.5,965.09 329.5,964.83 331.5,964.89 333.5,964.95 335.5,965.23 337.5,965.03 339.5,964.93 341.5,964.71 343.5,964.71 345.5,964.87 347.5,964.88 349.5,964.86 351.5,964.70 353.5,964.90 355.5,964.91 357.5,965.17 359.5,965.06 361.5,965.04 363.5,964.79 365.5,964.89 367.5,964.79 369.5,964.82 371.5,964.92 373.5,964.93 375.5,965.05 377.5,965.17 379.5,965.14 381.5,964.93 383.5,964.70 385.5,964.77 387.5,964.80 389.5,964.67 391.5,965.02 393.5,965.02 395.5,965.04 397.5,965.25 399.5,965.26 401.5,965.10 403.5,964.94 405.5,965.13 407.5,965.18 409.5,965.12 411.5,965.40 413.5,965.32 415.5,965.00 417.5,965.18 419.5,965.21 421.5,965.54 423.5,965.51 425.5,965.15 427.5,965.12 429.5,965.28 430.0,965.38 430.5,965.63 431.0,965.52 431.5,965.34 432.0,965.27 432.5,964.99 433.0,965.28 433.5,965.46 434.0,965.26 434.5,965.18 435.0,965.45 435.5,965.67 436.0,965.35 436.5,965.15 437.0,965.33 437.5,965.02 438.0,965.18 438.5,965.21 439.0,965.30 439.5,965.20 440.0,965.41 440.5,965.23 441.0,964.78 441.5,964.70 442.0,965.07 442.5,965.37 443.0,965.22 443.5,965.08 444.0,965.03 444.5,965.12 445.0,965.04 445.5,964.86 446.0,964.69 446.5,964.94 447.0,964.86 447.5,964.53 448.0,964.84 448.5,964.61 449.0,964.12 449.5,963.86 450.0,964.14 450.5,964.11 451.0,963.74 451.5,963.54 452.0,963.80 452.5,963.59 453.0,963.62 453.5,964.11 454.0,964.03 454.5,963.62 455.0,963.29 455.5,963.16 456.0,962.76 456.5,962.89 457.0,962.76 457.5,962.51 458.0,962.47 458.5,962.72 459.0,962.68 459.5,962.62 460.0,962.56 460.5,962.19 461.0,961.89 461.5,961.77 462.0,961.98 462.5,962.12 463.0,961.99 463.5,961.89 464.0,961.57 464.5,961.50 465.0,961.38 465.5,961.40 466.0,961.80 466.5,961.65 467.0,961.24 467.5,961.13 468.0,961.12 468.5,960.99 469.0,961.10 469.5,960.92 470.0,960.92 470.5,960.87 471.0,960.87 471.5,960.73 472.0,960.67 472.5,960.80 473.0,960.94 473.5,961.09 474.0,961.32 474.5,961.61 475.0,961.56 475.5,961.45 476.0,961.54 476.5,961.54 477.0,961.84 477.5,961.75 478.0,961.53 478.5,961.85 479.0,961.81 479.5,961.33 480.0,961.49 480.5,961.57 481.0,961.37 481.5,961.44 482.0,961.58 482.5,961.82 483.0,961.98 483.5,962.17 484.0,961.83 484.5,961.82 485.0,961.68 485.5,961.52 486.0,961.17 486.5,960.96 487.0,961.15 487.5,961.47 488.0,961.58 488.5,961.37 489.0,961.12 489.5,960.81 490.0,960.81 490.5,960.38 491.0,959.55 491.5,958.91 492.0,958.32 492.5,958.04 493.0,957.37 493.5,956.69 494.0,956.26 494.5,955.83 495.0,955.30 495.5,954.81 496.0,954.45 496.5,954.24 497.0,954.47 497.5,954.45 498.0,953.74 498.5,953.64 499.0,953.51 499.5,953.15 500.0,953.01 500.5,952.79 501.0,952.83 501.5,952.50 502.0,952.37 502.5,952.27 503.0,951.85 503.5,951.46 504.0,951.52 504.5,951.63 505.0,951.43 505.5,951.21 506.0,950.92 506.5,950.95 507.0,950.94 507.5,950.82 508.0,950.83 508.5,950.36 509.0,949.89 509.5,949.73 510.0,949.94 510.5,949.77 511.0,949.67 511.5,949.50 512.0,949.46 512.5,949.16 513.0,948.67 513.5,948.52 514.0,948.35 514.5,947.91 515.0,948.01 515.5,947.88 516.0,947.52 516.5,947.08 517.0,946.77 517.5,946.36 518.0,946.19 518.5,945.93 519.0,945.72 519.5,945.44 520.0,945.27 520.5,945.03 521.0,944.66 521.5,944.41 522.0,943.96 522.5,943.64 523.0,943.48 523.5,943.23 524.0,942.88 524.5,942.43 525.0,942.13 525.5,941.82 526.0,941.47 526.5,940.97 527.0,940.46 527.5,939.86 528.0,939.33 528.5,938.77 529.0,938.20 529.5,937.48 530.0,936.83 530.5,936.30 531.0,935.71 531.5,934.95 532.0,934.20 532.5,933.47 533.0,932.82 533.5,932.08 534.0,931.34 534.5,930.42 535.0,929.45 535.5,928.55 536.0,927.59 536.5,926.64 537.0,925.78 537.5,924.67 538.0,923.43 538.5,922.32 539.0,920.92 539.5,919.39 540.0,917.89 540.5,916.18 541.0,914.15 541.5,911.90 542.0,909.61 542.5,907.04 543.0,904.25 543.5,901.71 544.0,899.05 544.5,896.14 545.0,893.18 545.5,890.08 546.0,886.91 546.5,883.81 547.0,880.63 547.5,877.19 548.0,873.86 548.5,870.46 549.0,866.98 549.5,863.55 550.0,860.24 550.5,857.15 551.0,854.10 551.5,850.82 552.0,847.24 552.5,843.37 553.0,838.40 553.5,832.69 554.0,826.42 554.5,819.85 555.0,813.25 555.5,806.69 556.0,800.66 556.5,795.18 557.0,790.12 557.5,785.67 558.0,781.67 558.5,778.36 559.0,775.37 559.5,773.07 560.0,771.54 560.5,770.87 561.0,771.00 561.5,772.12 562.0,774.43 562.5,777.80 563.0,782.05 563.5,786.93 564.0,792.05 564.5,797.61 565.0,803.31 565.5,808.93 566.0,814.36 566.5,819.88 567.0,825.32 567.5,830.36 568.0,835.00 568.5,839.16 569.0,842.62 569.5,845.86 570.0,848.99 570.5,851.93 571.0,854.79 571.5,857.38 572.0,859.66 572.5,861.76 573.0,863.76 573.5,865.36 574.0,866.74 574.5,867.82 575.0,869.02 575.5,870.14 576.0,871.27 576.5,872.32 577.0,873.17 577.5,874.02 578.0,874.77 578.5,875.37 579.0,875.84 579.5,876.15 580.0,876.23 580.5,876.10 581.0,875.81 581.5,875.41 582.0,874.98 582.5,874.47 583.0,873.88 583.5,873.07 584.0,872.20 584.5,871.40 585.0,870.39 585.5,869.02 586.0,867.06 586.5,864.50 587.0,861.38 587.5,858.21 588.0,854.97 588.5,851.59 589.0,848.28 589.5,844.95 590.0,841.49 590.5,837.67 591.0,833.75 591.5,829.58 592.0,825.10 592.5,820.46 593.0,815.40 593.5,809.90 594.0,804.07 594.5,798.03 595.0,791.59 595.5,784.97 596.0,778.31 596.5,771.73 597.0,764.75 597.5,757.47 598.0,750.00 598.5,742.34 599.0,734.60 599.5,726.51 600.0,718.12 600.5,709.47 601.0,700.14 601.5,690.36 602.0,680.55 602.5,670.83 603.0,661.36 603.5,652.09 604.0,643.50 604.5,636.11 605.0,629.85 605.5,625.18 606.0,622.24 606.5,621.16 607.0,622.23 607.5,625.41 608.0,630.49 608.5,637.28 609.0,645.65 609.5,655.36 610.0,666.02 610.5,677.40 611.0,689.30 611.5,701.45 612.0,714.00 612.5,726.65 613.0,738.80 613.5,749.79 614.0,759.22 614.5,767.85 615.0,776.02 615.5,783.87 616.0,791.13 616.5,797.80 617.0,803.74 617.5,809.01 618.0,813.81 618.5,818.30 619.0,822.50 619.5,826.57 620.0,830.41 620.5,833.97 621.0,837.14 621.5,840.13 622.0,842.96 622.5,845.55 623.0,847.96 623.5,850.14 624.0,852.23 624.5,854.31 625.0,856.19 625.5,857.82 626.0,859.41 626.5,860.84 627.0,862.28 627.5,863.56 628.0,864.82 628.5,866.09 629.0,867.36 629.5,868.58 630.0,869.74 630.5,870.71 631.0,871.46 631.5,872.09 632.0,872.67 632.5,872.85 633.0,872.52 633.5,871.86 634.0,870.75 634.5,869.47 635.0,868.13 635.5,866.60 636.0,864.75 636.5,863.02 637.0,861.41 637.5,859.42 638.0,857.32 638.5,854.91 639.0,852.26 639.5,849.65 640.0,847.08 640.5,844.33 641.0,841.94 641.5,839.85 642.0,837.93 642.5,836.23 643.0,834.80 643.5,833.21 644.0,831.57 644.5,830.12 645.0,828.65 645.5,826.95 646.0,825.01 646.5,823.03 647.0,820.80 647.5,818.23 648.0,814.31 648.5,810.74 649.0,807.78 649.5,805.03 650.0,802.74 650.5,800.76 651.0,798.88 651.5,797.49 652.0,796.67 652.5,796.09 653.0,795.85 653.5,796.40 654.0,798.12 654.5,800.59 655.0,803.93 655.5,808.14 656.0,812.90 656.5,818.15 657.0,823.58 657.5,829.17 658.0,834.88 658.5,840.50 659.0,845.82 659.5,851.04 660.0,856.09 660.5,861.05 661.0,865.87 661.5,870.27 662.0,874.07 662.5,877.28 663.0,880.08 663.5,882.77 664.0,885.26 664.5,887.51 665.0,889.68 665.5,891.69 666.0,893.47 666.5,895.13 667.0,896.57 667.5,897.72 668.0,898.71 668.5,899.71 669.0,900.75 669.5,901.51 670.0,902.11 670.5,902.85 671.0,903.71 671.5,904.34 672.0,904.86 672.5,905.42 673.0,905.87 673.5,906.51 674.0,907.13 674.5,907.61 675.0,908.32 675.5,909.14 676.0,909.81 676.5,910.34 677.0,910.98 677.5,911.56 678.0,911.86 678.5,912.11 679.0,912.38 679.5,912.50 680.0,912.46 680.5,912.05 681.0,911.52 681.5,911.04 682.0,910.26 682.5,909.59 683.0,909.02 683.5,908.50 684.0,908.13 684.5,908.00 685.0,908.00 685.5,908.10 686.0,908.46 686.5,908.88 687.0,909.35 687.5,909.88 688.0,910.45 688.5,911.18 689.0,911.80 689.5,912.47 690.0,913.64 690.5,914.91 691.0,916.28 691.5,917.98 692.0,919.58 692.5,921.18 693.0,922.78 693.5,924.39 694.0,925.82 694.5,927.22 695.0,928.72 695.5,930.22 696.0,931.74 696.5,933.20 697.0,934.65 697.5,935.96 698.0,937.22 698.5,938.28 699.0,939.11 699.5,939.97 700.0,940.70 700.5,941.08 701.0,941.67 701.5,942.14 702.0,942.47 702.5,942.72 703.0,943.07 703.5,943.31 704.0,943.50 704.5,943.67 705.0,943.72 705.5,943.71 706.0,943.83 706.5,943.67 707.0,943.43 707.5,943.24 708.0,942.88 708.5,942.52 709.0,942.34 709.5,941.90 710.0,941.50 710.5,941.06 711.0,940.58 711.5,939.97 712.0,939.26 712.5,938.58 713.0,938.02 713.5,937.54 714.0,936.97 714.5,936.23 715.0,935.50 715.5,934.90 716.0,934.16 716.5,933.44 717.0,932.78 717.5,932.14 718.0,931.45 718.5,930.79 719.0,930.10 719.5,929.27 720.0,928.35 720.5,927.66 721.0,927.09 721.5,926.46 722.0,925.85 722.5,925.05 723.0,924.30 723.5,923.66 724.0,922.92 724.5,922.09 725.0,921.32 725.5,920.46 726.0,919.72 726.5,919.06 727.0,918.22 727.5,917.57 728.0,916.87 728.5,916.15 729.0,915.45 729.5,914.68 730.0,913.85 730.5,913.25 731.0,912.74 731.5,912.24 732.0,911.54 732.5,910.91 733.0,910.35 733.5,909.78 734.0,909.00 734.5,908.39 735.0,907.92 735.5,907.32 736.0,906.97 736.5,906.58 737.0,906.24 737.5,906.11 738.0,906.06 738.5,906.25 739.0,906.65 739.5,907.20 740.0,907.77 740.5,908.48 741.0,909.26 741.5,910.16 742.0,911.03 742.5,911.71 743.0,912.53 743.5,913.14 744.0,913.64 744.5,914.08 745.0,914.51 745.5,914.86 746.0,915.20 746.5,915.60 747.0,915.93 747.5,916.23 748.0,916.54 748.5,916.80 749.0,916.94 749.5,916.99 750.0,916.95 750.5,916.94 751.0,916.84 751.5,916.83 752.0,916.68 752.5,916.66 753.0,916.55 753.5,916.15 754.0,915.91 754.5,915.58 755.0,915.19 755.5,914.87 756.0,914.67 756.5,914.41 757.0,913.98 757.5,913.51 758.0,913.18 758.5,912.90 759.0,912.60 759.5,912.11 760.0,911.62 760.5,911.14 761.0,910.52 761.5,909.92 762.0,909.28 762.5,908.59 763.0,908.07 763.5,907.46 764.0,906.76 764.5,905.92 765.0,905.22 765.5,904.60 766.0,903.87 766.5,903.11 767.0,902.23 767.5,901.44 768.0,900.61 768.5,899.80 769.0,898.92 769.5,898.08 770.0,897.19 770.5,896.12 771.0,894.94 771.5,893.96 772.0,892.78 772.5,891.43 773.0,890.11 773.5,888.80 774.0,887.36 774.5,885.70 775.0,883.97 775.5,881.66 776.0,879.25 776.5,877.11 777.0,874.95 777.5,873.25 778.0,871.55 778.5,869.92 779.0,868.59 779.5,867.33 780.0,866.29 780.5,865.35 781.0,864.65 781.5,864.05 782.0,863.66 782.5,863.55 783.0,863.60 783.5,864.25 784.0,865.33 784.5,866.63 785.0,868.22 785.5,869.88 786.0,871.43 786.5,872.99 787.0,874.55 787.5,876.23 788.0,877.95 788.5,879.75 789.0,881.67 789.5,883.48 790.0,885.08 790.5,886.37 791.0,887.31 791.5,887.87 792.0,888.40 792.5,888.85 793.0,889.37 793.5,889.89 794.0,890.37 794.5,890.55 795.0,890.74 795.5,891.09 796.0,891.19 796.5,891.30 797.0,891.32 797.5,891.27 798.0,891.24 798.5,890.96 799.0,890.54 799.5,890.14 800.0,889.68 800.5,889.20 801.0,888.59 801.5,887.94 802.0,887.33 802.5,886.74 803.0,886.14 803.5,885.47 804.0,884.89 804.5,884.29 805.0,883.60 805.5,882.57 806.0,881.38 806.5,880.48 807.0,879.54 807.5,878.59 808.0,877.63 808.5,876.49 809.0,875.31 809.5,874.44 810.0,873.58 810.5,872.77 811.0,872.02 811.5,871.24 812.0,870.60 812.5,869.83 813.0,869.25 813.5,868.76 814.0,868.29 814.5,867.61 815.0,867.11 815.5,866.90 816.0,866.64 816.5,866.46 817.0,866.10 817.5,865.86 818.0,865.79 818.5,865.64 819.0,865.53 819.5,865.42 820.0,865.55 820.5,865.56 821.0,865.67 821.5,865.70 822.0,865.80 822.5,866.05 823.0,866.32 823.5,866.60 824.0,866.81 824.5,867.10 825.0,867.49 825.5,867.90 826.0,868.07 826.5,868.44 827.0,868.77 827.5,869.14 828.0,869.55 828.5,870.03 829.0,870.34 829.5,870.78 830.0,871.34 830.5,871.88 831.0,872.57 831.5,873.19 832.0,873.74 832.5,874.43 833.0,875.11 833.5,875.93 834.0,876.85 834.5,877.79 835.0,878.49 835.5,879.11 836.0,879.74 836.5,880.31 837.0,880.65 837.5,881.13 838.0,881.53 838.5,881.77 839.0,882.15 839.5,882.42 840.0,882.36 840.5,882.14 841.0,881.94 841.5,881.61 842.0,881.16 842.5,880.44 843.0,879.77 843.5,879.11 844.0,878.39 844.5,877.65 845.0,876.87 845.5,876.05 846.0,875.15 846.5,874.18 847.0,873.00 847.5,871.75 848.0,870.47 848.5,869.14 849.0,867.69 849.5,866.14 850.0,864.75 850.5,863.40 851.0,861.99 851.5,860.61 852.0,859.50 852.5,858.76 853.0,858.08 853.5,857.34 854.0,856.57 854.5,855.78 855.0,854.43 855.5,852.44 856.0,850.21 856.5,847.56 857.0,844.75 857.5,842.19 858.0,840.03 858.5,838.31 859.0,838.09 859.5,838.69 860.0,839.64 860.5,841.06 861.0,842.74 861.5,844.53 862.0,846.61 862.5,850.03 863.0,854.33 863.5,859.16 864.0,864.15 864.5,868.89 865.0,872.89 865.5,876.10 866.0,879.25 866.5,882.33 867.0,885.31 867.5,888.20 868.0,891.06 868.5,893.62 869.0,895.87 869.5,897.97 870.0,899.93 870.5,901.65 871.0,903.30 871.5,904.99 872.0,906.55 872.5,908.01 873.0,909.40 873.5,910.65 874.0,911.90 874.5,912.91 875.0,913.95 875.5,914.85 876.0,915.57 876.5,916.22 877.0,916.74 877.5,917.35 878.0,918.04 878.5,918.66 879.0,919.30 879.5,919.86 880.0,920.40 880.5,920.88 881.0,921.31 881.5,921.70 882.0,922.04 882.5,922.40 883.0,922.76 883.5,922.80 884.0,923.01 884.5,923.22 885.0,923.27 885.5,923.25 886.0,923.03 886.5,922.68 887.0,922.38 887.5,922.03 888.0,921.77 888.5,921.35 889.0,920.76 889.5,920.23 890.0,919.62 890.5,918.99 891.0,918.46 891.5,917.88 892.0,917.41 892.5,917.00 893.0,916.61 893.5,916.20 894.0,915.73 894.5,915.33 895.0,914.94 895.5,914.43 896.0,913.79 896.5,913.45 897.0,913.14 897.5,912.66 898.0,912.35 898.5,912.02 899.0,911.59 899.5,911.43 900.0,911.33 900.5,911.20 901.0,911.14 901.5,911.36 902.0,911.64 902.5,912.10 903.0,912.56 903.5,913.07 904.0,913.71 904.5,914.36 905.0,915.04 905.5,915.76 906.0,916.62 906.5,917.50 907.0,918.46 907.5,919.59 908.0,920.89 908.5,922.37 909.0,923.95 909.5,925.50 910.0,927.25 910.5,928.82 911.0,930.43 911.5,931.79 912.0,932.97 912.5,934.13 913.0,935.15 913.5,936.16 914.0,937.15 914.5,938.03 915.0,938.95 915.5,939.87 916.0,940.74 916.5,941.70 917.0,942.62 917.5,943.47 918.0,944.26 918.5,945.02 919.0,945.77 919.5,946.35 920.0,947.08 920.5,947.79 921.0,948.48 921.5,949.06 922.0,949.57 922.5,950.03 923.0,950.49 923.5,950.84 924.0,951.26 924.5,951.66 925.0,952.30 925.5,952.74 926.0,952.98 926.5,953.27 927.0,953.57 927.5,953.99 928.0,954.47 928.5,954.80 929.0,955.05 929.5,955.41 930.0,955.75 930.5,956.12 931.0,956.41 931.5,956.62 932.0,956.86 932.5,957.03 933.0,957.14 933.5,957.44 934.0,957.67 934.5,957.81 935.0,957.84 935.5,958.06 936.0,958.16 936.5,958.33 937.0,958.47 937.5,958.41 938.0,958.52 938.5,958.74 939.0,958.74 939.5,958.84 940.0,959.03 940.5,959.12 941.0,959.31 941.5,959.34 942.0,959.39 942.5,959.71 943.0,959.92 943.5,959.74 944.0,959.94 944.5,959.97 945.0,959.85 945.5,959.82 946.0,959.67 946.5,959.75 947.0,959.96 947.5,960.08 948.0,960.19 948.5,959.91 949.0,959.95 949.5,960.01 950.0,960.19 950.5,960.35 951.0,960.15 951.5,960.33 952.0,960.24 952.5,960.31 953.0,960.51 953.5,960.45 954.0,960.54 954.5,960.51 955.0,960.44 955.5,960.33 956.0,960.16 956.5,960.33 957.0,960.58 957.5,960.57 958.0,960.44 958.5,960.78 959.0,960.76 959.5,960.44 960.0,960.48 960.5,960.66 961.0,960.42 961.5,960.53 962.0,960.73 962.5,960.77 963.0,960.82 963.5,960.85 964.0,960.69 964.5,960.84 965.0,961.11 965.5,960.71 966.0,960.71 966.5,960.83 967.0,960.84 967.5,961.06 968.0,961.01 968.5,960.86 969.0,960.52 969.5,961.00 970.0,961.11 970.5,960.89 971.0,961.08 971.5,961.06 972.0,961.17 972.5,961.27 973.0,960.95 973.5,960.70 974.0,960.74 974.5,960.60 975.0,960.61 975.5,960.65 976.0,960.78 976.5,961.10 977.0,961.05 977.5,960.84 978.0,960.93 978.5,960.61 979.0,960.66 979.5,960.89 980.0,961.13 980.5,961.11 981.0,961.09 981.5,961.19 982.0,961.18 982.5,961.13 983.0,960.73 983.5,960.51 984.0,960.76 984.5,961.03 985.0,961.04 985.5,961.11 986.0,961.10 986.5,961.07 987.0,961.02 987.5,960.87 988.0,960.98 988.5,960.77 989.0,960.72 989.5,960.66 990.0,960.80 990.5,960.72 991.0,960.97 991.5,960.75 992.0,960.85 992.5,960.83 993.0,960.80 993.5,961.04 994.0,960.98 994.5,961.07 995.0,960.74 995.5,960.56 996.0,960.51 996.5,960.92 997.0,961.10 997.5,960.98 998.0,960.82 998.5,960.86 999.0,961.30 999.5,961.05 1000.0,960.58 1000.5,960.57 1001.0,960.50 1001.5,961.14 1002.0,961.43 1002.5,961.27 1003.0,960.93 1003.5,960.70 1004.0,960.63 1004.5,960.86 1005.0,960.77 1005.5,960.74 1006.0,960.74 1006.5,960.85 1007.0,961.14 1007.5,961.27 1008.0,961.03 1008.5,960.85 1009.0,960.64 1009.5,960.57 1010.0,960.71 1012.0,961.06 1014.0,961.15 1016.0,961.25 1018.0,961.20 1020.0,961.03 1022.0,960.95 1024.0,961.06 1026.0,961.21 1028.0,961.74 1030.0,961.69 1032.0,961.70 1034.0,962.04 1036.0,961.91 1038.0,961.99 1040.0,962.05 1042.0,962.16 1044.0,962.21 1046.0,962.49 1048.0,962.65 1050.0,962.26 1052.0,962.24 1054.0,962.86 1056.0,963.00 1058.0,963.08 1060.0,963.12 1062.0,963.48 1064.0,963.54 1066.0,963.21 1068.0,963.35 1070.0,963.24 1072.0,963.12 1074.0,963.40 1076.0,963.56 1078.0,963.30 1080.0,963.38 1082.0,963.79 1084.0,963.77 1086.0,963.69 1088.0,963.48 1090.0,963.54 1092.0,963.74 1094.0,963.81 1096.0,963.91 1098.0,964.10 1100.0,963.85 1102.0,963.51 1104.0,963.59 1106.0,963.88 1108.0,964.07 1110.0,963.82 1112.0,963.79 1114.0,963.85 1116.0,963.76 1118.0,963.74 1120.0,963.93 1122.0,964.17 1124.0,964.12 1126.0,964.00 1128.0,963.99 1130.0,963.88 1132.0,964.19 1134.0,964.27 1136.0,964.06 1138.0,963.92 1140.0,964.18 1142.0,963.63 1144.0,963.69 1146.0,963.93 1148.0,964.11 1150.0,963.92 1152.0,964.09 1154.0,964.13 1156.0,964.16 1158.0,964.41 1160.0,964.53 1162.0,964.34 1164.0,964.05 1166.0,963.88 1168.0,964.34 1170.0,964.16 1172.0,963.90 1174.0,964.26 1176.0,964.53 1178.0,964.26 1180.0,964.20 1182.0,964.67 1184.0,964.57 1186.0,964.47 1188.0,964.39 1190.0,963.99 1192.0,964.18 1194.0,964.45 1196.0,964.72 1198.0,964.36 1200.0,964.15 1202.0,964.04 1204.0,964.14 1206.0,964.33 1208.0,964.43 1210.0,964.52 1212.0,964.81 1214.0,964.69 1216.0,964.68 1218.0,964.78 1220.0,964.63 1222.0,964.32 1224.0,964.19 1226.0,964.42 1228.0,964.46 1230.0,964.66 1232.0,964.33 1234.0,964.09 1236.0,964.49 1238.0,964.74 1240.0,964.61 1242.0,964.61 1244.0,964.73 1246.0,964.94 1248.0,964.77 1250.0,964.60 1252.0,964.42 1254.0,964.39 1256.0,964.88 1258.0,964.90 1260.0,964.61 1262.0,964.76 1264.0,964.77 1266.0,964.64 1268.0,964.69 1270.0,964.78 1272.0,964.54 1274.0,964.58 1276.0,964.72 1278.0,964.76 1280.0,964.76 1282.0,964.86 1284.0,964.86 1286.0,964.69 1288.0,964.76 1290.0,964.84 1292.0,965.01 1294.0,964.68 1296.0,964.79 1298.0,964.98 1300.0,964.87 1302.0,964.80 1304.0,964.82 1306.0,964.88 1308.0,964.74 1310.0,964.86 1312.0,964.85 1314.0,964.71 1316.0,964.92 1318.0,964.94 1320.0,965.08 1322.0,965.21 1324.0,965.07 1326.0,964.86 1328.0,964.94 1330.0,964.74 1332.0,964.93 1334.0,965.34 1336.0,965.29 1338.0,965.37 1340.0,965.17 1342.0,965.04 1344.0,964.98 1346.0,965.23 1348.0,965.21 1350.0,965.29 1352.0,965.32 1354.0,965.32 1356.0,965.28 1358.0,965.21 1360.0,965.16 1362.0,964.96 1364.0,964.83 1366.0,965.32 1368.0,965.72 1370.0,965.72 1372.0,965.79 1374.0,965.45 1376.0,965.08 1378.0,965.10 1380.0,965.40 1382.0,965.41 1384.0,965.35 1386.0,965.40 1388.0,965.25 1390.0,965.37 1392.0,965.34 1394.0,965.44 1396.0,965.58 1398.0,965.50 1400.0,965.70 1402.0,965.66 1404.0,965.47 1406.0,965.70 1408.0,965.31 1410.0,965.36 1412.0,965.40 1414.0,965.11 1416.0,965.54 1418.0,965.69 1420.0,965.50 1422.0,965.50 1424.0,965.49 1426.0,965.49 1428.0,965.61 1430.0,965.45 1432.0,965.45 1434.0,965.58 1436.0,965.71 1438.0,965.64 1440.0,965.15 1442.0,965.01 1444.0,965.33 1446.0,965.40 1448.0,965.31 1450.0,965.52 1452.0,965.66 1454.0,965.71 1456.0,965.77 1458.0,965.42 1460.0,965.57 1462.0,965.91 1464.0,965.69 1466.0,965.37 1468.0,965.57 1470.0,965.89 1472.0,966.03 1474.0,965.86 1476.0,965.73 1478.0,965.40 1480.0,965.51 1482.0,965.70 1484.0,965.45 1486.0,965.38 1488.0,965.31 1490.0,965.72 1492.0,965.67 1494.0,965.58 1496.0,965.26 1498.0,965.36 1500.0,965.81 1502.0,965.60 1504.0,965.50 1506.0,965.69 1508.0,965.61 1510.0,965.22 1512.0,965.31 1514.0,965.56 1516.0,965.64 1518.0,965.65 1520.0,965.54 1522.0,965.56 1524.0,965.60 1526.0,965.46 1528.0,965.40 1530.0,965.48 1532.0,965.60 1534.0,965.58 1536.0,965.53 1538.0,965.57 1540.0,965.64 1542.0,965.73 1544.0,965.66 1546.0,965.51 1548.0,965.66 1550.0,965.47 1552.0,965.63 1554.0,965.61 1556.0,965.80 1558.0,965.79 1560.0,965.44 1562.0,965.69 1564.0,965.74 1566.0,965.64 1568.0,965.70 1570.0,965.63 1572.0,965.62 1574.0,965.56 1576.0,965.82 1578.0,965.90 1580.0,965.84 1582.0,965.75 1584.0,966.13 1586.0,966.18 1588.0,965.80 1590.0,965.62 1592.0,965.67 1594.0,965.89 1596.0,965.91 1598.0,965.54 1600.0,965.35 1602.0,965.69 1604.0,965.77 1606.0,965.80 1608.0,965.78 1610.0,965.58 1612.0,965.68 1614.0,965.73 1616.0,965.88 1618.0,966.00 1620.0,965.78 1622.0,965.68 1624.0,965.98 1626.0,965.96 1628.0,965.66 1630.0,965.38 1632.0,965.51 1634.0,965.78 1636.0,965.85 1638.0,965.74 1640.0,965.79 1642.0,965.67 1644.0,965.70 1646.0,965.84 1648.0,965.78 1650.0,965.85 1652.0,966.03 1654.0,966.01 1656.0,965.74 1658.0,965.63 1660.0,965.46 1662.0,965.50 1664.0,965.75 1666.0,965.62 1668.0,965.47 1670.0,965.74 1672.0,965.67 1674.0,965.73 1676.0,965.89 1678.0,965.91 1680.0,965.71 1682.0,965.49 1684.0,965.77 1686.0,965.66 1688.0,965.40 1690.0,965.42 1692.0,965.94 1694.0,965.94 1696.0,965.90 1698.0,965.94 1700.0,965.77 1702.0,965.61 1704.0,965.93 1706.0,966.09 1708.0,966.09 1710.0,966.27 1712.0,966.23 1714.0,965.79 1716.0,965.77 1718.0,965.99 1720.0,965.95 1722.0,965.96 1724.0,966.08 1726.0,966.02 1728.0,965.83 1730.0,965.81 1732.0,965.73 1734.0,965.72 1736.0,965.53 1738.0,965.41 1740.0,965.62 1742.0,965.78 1744.0,966.09 1746.0,966.21 1748.0,966.00 1750.0,965.92 1752.0,965.73 1754.0,965.65 1756.0,965.75 1758.0,965.83 1760.0,965.92 1762.0,966.02 1764.0,966.17 1766.0,965.84 1768.0,965.58 1770.0,965.77 1772.0,965.79 1774.0,965.95 1776.0,966.06 1778.0,965.84 1780.0,965.87 1782.0,965.92 1784.0,965.77 1786.0,965.91 1788.0,966.05 1790.0,966.14 1792.0,966.17 1794.0,966.09 1796.0,965.92 1798.0,965.51 1800.0,965.27 1802.0,965.65 1804.0,966.10 1806.0,965.87 1808.0,965.48 1810.0,965.71 1812.0,965.83 1814.0,965.63 1816.0,965.83 1818.0,965.79 1820.0,966.02 1822.0,966.16 1824.0,966.38 1826.0,965.87 1828.0,965.79 1830.0,965.73 1832.0,966.03 1832.5,966.00"/>
<path stroke="#008a00" d="M63.5,723.07 65.5,722.44 67.5,722.54 69.5,722.46 71.5,722.35 73.5,722.23 75.5,721.97 77.5,722.10 79.5,722.32 81.5,722.83 83.5,722.50 85.5,722.24 87.5,722.23 89.5,722.20 91.5,722.22 93.5,722.45 95.5,722.70 97.5,722.80 99.5,723.00 101.5,722.99 103.5,723.16 105.5,723.50 107.5,723.46 109.5,723.33 111.5,723.46 113.5,723.79 115.5,724.02 117.5,723.78 119.5,723.77 121.5,723.92 123.5,723.70 125.5,723.76 127.5,723.99 129.5,723.97 131.5,723.90 133.5,723.75 135.5,723.38 137.5,723.73 139.5,723.55 141.5,723.41 143.5,723.72 145.5,723.83 147.5,723.59 149.5,723.46 151.5,723.60 153.5,723.71 155.5,723.91 157.5,723.82 159.5,723.72 161.5,723.75 163.5,723.50 165.5,723.35 167.5,723.56 169.5,723.58 171.5,723.37 173.5,723.26 175.5,723.22 177.5,722.96 179.5,723.33 181.5,723.33 183.5,723.01 185.5,723.11 187.5,723.10 189.5,723.16 191.5,722.81 193.5,722.92 195.5,723.29 197.5,723.25 199.5,722.76 201.5,722.89 203.5,723.07 205.5,723.06 207.5,723.22 209.5,722.94 211.5,722.95 213.5,722.93 215.5,723.20 217.5,723.06 219.5,722.83 221.5,722.77 223.5,723.25 225.5,723.29 227.5,723.27 229.5,723.30 231.5,723.14 233.5,722.93 235.5,722.87 237.5,723.02 239.5,723.27 241.5,722.98 243.5,723.02 245.5,723.19 247.5,723.37 249.5,723.40 251.5,723.11 253.5,723.07 255.5,723.47 257.5,723.82 259.5,723.83 261.5,723.73 263.5,723.69 265.5,723.79 267.5,723.85 269.5,723.97 271.5,723.85 273.5,723.96 275.5,724.07 277.5,724.21 279.5,724.38 281.5,724.77 283.5,724.78 285.5,724.55 287.5,724.07 289.5,724.19 291.5,724.36 293.5,724.43 295.5,724.24 297.5,724.72 299.5,724.81 301.5,724.43 303.5,724.39 305.5,724.52 307.5,724.74 309.5,725.01 311.5,725.18 313.5,724.93 315.5,724.95 317.5,725.00 319.5,725.19 321.5,725.14 323.5,725.03 325.5,724.66 327.5,724.61 329.5,724.66 331.5,724.96 333.5,724.84 335.5,724.57 337.5,724.49 339.5,724.52 341.5,724.30 343.5,724.21 345.5,724.51 347.5,724.72 349.5,724.27 351.5,723.95 353.5,723.74 355.5,723.72 357.5,724.00 359.5,724.06 361.5,723.88 363.5,723.81 365.5,723.73 367.5,723.56 369.5,723.27 371.5,723.35 373.5,723.41 375.5,723.26 377.5,723.20 379.5,723.16 381.5,723.26 383.5,723.41 385.5,723.25 387.5,723.27 389.5,723.45 391.5,723.54 393.5,723.49 395.5,723.06 397.5,723.28 399.5,723.26 401.5,723.34 403.5,723.53 405.5,723.62 407.5,723.59 409.5,723.53 411.5,723.63 413.5,723.40 415.5,723.38 417.5,723.50 419.5,723.49 421.5,723.84 423.5,723.89 425.5,723.91 427.5,723.58 429.5,723.44 430.0,723.56 430.5,723.62 431.0,723.48 431.5,723.55 432.0,723.64 432.5,723.78 433.0,723.57 433.5,723.65 434.0,723.43 434.5,723.30 435.0,723.30 435.5,723.31 436.0,723.58 436.5,723.77 437.0,723.70 437.5,723.80 438.0,723.93 438.5,723.75 439.0,723.63 439.5,723.47 440.0,723.35 440.5,723.55 441.0,723.39 441.5,723.64 442.0,723.73 442.5,723.83 443.0,723.65 443.5,723.51 444.0,723.63 444.5,723.57 445.0,723.60 445.5,723.66 446.0,723.64 446.5,723.59 447.0,723.51 447.5,723.48 448.0,723.29 448.5,723.47 449.0,723.55 449.5,723.92 450.0,723.90 450.5,723.46 451.0,723.63 451.5,723.66 452.0,723.58 452.5,723.75 453.0,723.59 453.5,723.39 454.0,723.60 454.5,723.73 455.0,723.71 455.5,723.60 456.0,723.87 456.5,723.89 457.0,723.59 457.5,723.61 458.0,723.72 458.5,723.81 459.0,724.11 459.5,723.91 460.0,723.61 460.5,723.63 461.0,723.92 461.5,724.25 462.0,723.97 462.5,723.90 463.0,723.96 463.5,724.03 464.0,724.26 464.5,723.97 465.0,724.01 465.5,724.01 466.0,723.96 466.5,723.85 467.0,724.16 467.5,724.02 468.0,723.88 468.5,723.74 469.0,723.80 469.5,724.08 470.0,724.23 470.5,724.25 471.0,724.29 471.5,724.20 472.0,724.10 472.5,724.20 473.0,724.17 473.5,724.09 474.0,724.24 474.5,724.33 475.0,724.15 475.5,724.06 476.0,724.29 476.5,724.45 477.0,724.16 477.5,724.06 478.0,724.15 478.5,724.22 479.0,723.89 479.5,724.16 480.0,724.33 480.5,724.17 481.0,724.41 481.5,724.32 482.0,724.13 482.5,724.10 483.0,723.90 483.5,724.12 484.0,724.46 484.5,724.29 485.0,724.51 485.5,724.40 486.0,724.43 486.5,724.20 487.0,723.84 487.5,724.06 488.0,724.22 488.5,724.03 489.0,724.03 489.5,724.28 490.0,724.15 490.5,723.97 491.0,724.20 491.5,724.47 492.0,724.42 492.5,724.64 493.0,724.76 493.5,724.47 494.0,724.17 494.5,724.16 495.0,724.45 495.5,724.66 496.0,724.63 496.5,724.60 497.0,724.49 497.5,724.53 498.0,724.45 498.5,724.37 499.0,724.20 499.5,724.16 500.0,724.30 500.5,724.26 501.0,724.34 501.5,724.60 502.0,724.73 502.5,725.11 503.0,724.83 503.5,724.51 504.0,724.64 504.5,724.58 505.0,724.47 505.5,724.61 506.0,724.23 506.5,723.93 507.0,724.39 507.5,724.48 508.0,724.63 508.5,724.33 509.0,724.25 509.5,724.54 510.0,724.29 510.5,724.43 511.0,724.63 511.5,724.44 512.0,724.31 512.5,724.36 513.0,724.38 513.5,724.20 514.0,724.33 514.5,724.49 515.0,724.63 515.5,724.19 516.0,724.01 516.5,724.18 517.0,724.09 517.5,724.11 518.0,724.16 518.5,724.20 519.0,723.94 519.5,723.76 520.0,723.73 520.5,723.82 521.0,723.96 521.5,723.83 522.0,723.73 522.5,723.70 523.0,723.78 523.5,723.73 524.0,723.64 524.5,723.69 525.0,723.69 525.5,723.65 526.0,723.58 526.5,723.64 527.0,723.54 527.5,723.42 528.0,723.33 528.5,723.30 529.0,723.30 529.5,723.21 530.0,723.20 530.5,723.14 531.0,723.08 531.5,722.96 532.0,722.74 532.5,722.54 533.0,722.57 533.5,722.53 534.0,722.39 534.5,722.26 535.0,722.07 535.5,721.90 536.0,721.78 536.5,721.76 537.0,721.56 537.5,721.30 538.0,721.06 538.5,720.90 539.0,720.71 539.5,720.28 540.0,719.80 540.5,719.46 541.0,718.99 541.5,718.40 542.0,717.80 542.5,717.19 543.0,716.52 543.5,715.81 544.0,715.07 544.5,714.45 545.0,713.74 545.5,712.97 546.0,711.94 546.5,711.12 547.0,710.17 547.5,709.03 548.0,707.90 548.5,706.71 549.0,705.37 549.5,703.91 550.0,702.48 550.5,701.05 551.0,699.45 551.5,697.48 552.0,695.31 552.5,692.98 553.0,690.48 553.5,687.73 554.0,685.03 554.5,682.43 555.0,679.62 555.5,676.82 556.0,674.08 556.5,671.35 557.0,668.70 557.5,666.36 558.0,664.19 558.5,662.53 559.0,661.16 559.5,660.38 560.0,660.23 560.5,660.57 561.0,661.60 561.5,663.35 562.0,665.63 562.5,668.19 563.0,671.00 563.5,673.92 564.0,676.71 564.5,679.48 565.0,682.18 565.5,684.73 566.0,686.90 566.5,688.94 567.0,690.80 567.5,692.62 568.0,694.36 568.5,695.87 569.0,697.30 569.5,698.50 570.0,699.57 570.5,700.69 571.0,701.81 571.5,702.98 572.0,703.97 572.5,704.68 573.0,705.39 573.5,706.03 574.0,706.82 574.5,707.43 575.0,707.90 575.5,708.41 576.0,708.77 576.5,709.26 577.0,709.72 577.5,710.09 578.0,710.61 578.5,710.98 579.0,711.15 579.5,711.44 580.0,711.84 580.5,712.05 581.0,712.15 581.5,712.33 582.0,712.45 582.5,712.51 583.0,712.52 583.5,712.43 584.0,712.31 584.5,712.04 585.0,711.68 585.5,711.32 586.0,710.92 586.5,710.38 587.0,709.78 587.5,709.35 588.0,708.85 588.5,708.35 589.0,707.72 589.5,707.04 590.0,706.28 590.5,705.44 591.0,704.36 591.5,703.20 592.0,702.01 592.5,700.69 593.0,699.32 593.5,697.86 594.0,696.36 594.5,694.76 595.0,692.70 595.5,690.45 596.0,687.96 596.5,685.21 597.0,682.09 597.5,678.86 598.0,675.47 598.5,671.82 599.0,667.47 599.5,662.42 600.0,656.89 600.5,651.08 601.0,644.98 601.5,638.64 602.0,632.37 602.5,625.83 603.0,619.19 603.5,612.94 604.0,607.20 604.5,602.19 605.0,598.11 605.5,595.22 606.0,593.99 606.5,594.07 607.0,595.38 607.5,598.27 608.0,602.36 608.5,607.40 609.0,613.11 609.5,619.50 610.0,626.02 610.5,632.57 611.0,638.92 611.5,645.39 612.0,651.79 612.5,657.79 613.0,662.98 613.5,667.32 614.0,670.77 614.5,673.97 615.0,677.13 615.5,679.89 616.0,682.39 616.5,684.71 617.0,686.67 617.5,688.57 618.0,690.31 618.5,691.63 619.0,692.67 619.5,693.82 620.0,695.19 620.5,696.48 621.0,697.48 621.5,698.46 622.0,699.40 622.5,700.18 623.0,701.02 623.5,701.78 624.0,702.41 624.5,702.94 625.0,703.39 625.5,703.88 626.0,704.34 626.5,704.91 627.0,705.40 627.5,705.57 628.0,705.82 628.5,706.30 629.0,706.75 629.5,707.13 630.0,707.37 630.5,707.47 631.0,707.66 631.5,707.89 632.0,707.90 632.5,708.00 633.0,707.93 633.5,707.83 634.0,707.62 634.5,707.32 635.0,706.90 635.5,706.36 636.0,705.89 636.5,705.36 637.0,704.79 637.5,704.19 638.0,703.43 638.5,702.67 639.0,701.96 639.5,701.29 640.0,700.62 640.5,699.87 641.0,699.23 641.5,698.44 642.0,697.56 642.5,696.66 643.0,695.85 643.5,694.87 644.0,693.69 644.5,692.66 645.0,691.43 645.5,689.92 646.0,688.38 646.5,686.76 647.0,684.78 647.5,681.68 648.0,678.63 648.5,675.87 649.0,673.34 649.5,671.07 650.0,669.32 650.5,667.71 651.0,666.41 651.5,665.42 652.0,664.73 652.5,664.22 653.0,664.04 653.5,664.45 654.0,665.34 654.5,666.52 655.0,668.10 655.5,669.71 656.0,671.57 656.5,674.58 657.0,678.23 657.5,682.36 658.0,686.38 658.5,689.99 659.0,692.66 659.5,694.62 660.0,696.56 660.5,698.26 661.0,699.83 661.5,701.30 662.0,702.66 662.5,703.75 663.0,704.78 663.5,705.70 664.0,706.34 664.5,706.80 665.0,707.21 665.5,707.53 666.0,707.86 666.5,708.23 667.0,708.46 667.5,708.64 668.0,708.73 668.5,708.82 669.0,708.93 669.5,709.11 670.0,709.20 670.5,709.45 671.0,709.77 671.5,710.01 672.0,710.12 672.5,710.20 673.0,710.44 673.5,710.65 674.0,710.96 674.5,711.22 675.0,711.57 675.5,711.94 676.0,712.15 676.5,712.40 677.0,712.50 677.5,712.65 678.0,712.95 678.5,713.12 679.0,713.09 679.5,713.11 680.0,713.08 680.5,713.12 681.0,713.11 681.5,712.92 682.0,712.67 682.5,712.44 683.0,712.34 683.5,712.19 684.0,711.97 684.5,711.71 685.0,711.51 685.5,711.53 686.0,711.41 686.5,711.38 687.0,711.42 687.5,711.38 688.0,711.60 688.5,711.82 689.0,712.08 689.5,712.36 690.0,712.50 690.5,712.59 691.0,712.90 691.5,713.21 692.0,713.42 692.5,713.53 693.0,713.71 693.5,714.03 694.0,714.20 694.5,714.27 695.0,714.37 695.5,714.61 696.0,714.57 696.5,714.84 697.0,715.15 697.5,715.18 698.0,715.23 698.5,715.28 699.0,715.44 699.5,715.39 700.0,715.45 700.5,715.43 701.0,715.33 701.5,715.29 702.0,715.06 702.5,714.92 703.0,714.79 703.5,714.60 704.0,714.44 704.5,714.22 705.0,713.88 705.5,713.57 706.0,713.29 706.5,713.05 707.0,712.83 707.5,712.51 708.0,712.22 708.5,711.84 709.0,711.44 709.5,711.09 710.0,710.58 710.5,710.18 711.0,709.75 711.5,709.11 712.0,708.54 712.5,707.92 713.0,707.35 713.5,706.74 714.0,706.18 714.5,705.59 715.0,705.04 715.5,704.50 716.0,703.80 716.5,703.14 717.0,702.46 717.5,701.78 718.0,701.06 718.5,700.36 719.0,699.83 719.5,699.25 720.0,698.44 720.5,697.60 721.0,696.84 721.5,695.85 722.0,694.81 722.5,693.73 723.0,692.64 723.5,691.55 724.0,690.36 724.5,688.62 725.0,686.62 725.5,684.48 726.0,682.09 726.5,679.43 727.0,676.75 727.5,673.87 728.0,670.78 728.5,667.56 729.0,664.04 729.5,659.91 730.0,655.38 730.5,650.30 731.0,645.00 731.5,640.10 732.0,635.64 732.5,631.86 733.0,628.34 733.5,624.78 734.0,621.68 734.5,619.35 735.0,618.14 735.5,617.59 736.0,617.20 736.5,617.08 737.0,616.97 737.5,617.04 738.0,617.36 738.5,618.00 739.0,618.95 739.5,620.19 740.0,621.52 740.5,622.72 741.0,624.27 741.5,626.13 742.0,628.17 742.5,630.25 743.0,632.03 743.5,633.56 744.0,634.51 744.5,635.42 745.0,636.36 745.5,637.29 746.0,638.05 746.5,638.78 747.0,639.37 747.5,640.01 748.0,640.42 748.5,640.53 749.0,640.59 749.5,640.58 750.0,640.60 750.5,640.42 751.0,640.28 751.5,640.38 752.0,640.26 752.5,640.10 753.0,640.02 753.5,639.91 754.0,639.89 754.5,639.83 755.0,639.87 755.5,639.65 756.0,639.19 756.5,638.78 757.0,638.33 757.5,637.73 758.0,637.18 758.5,636.50 759.0,635.69 759.5,634.90 760.0,634.15 760.5,633.20 761.0,631.84 761.5,630.15 762.0,628.32 762.5,626.28 763.0,624.21 763.5,622.05 764.0,619.96 764.5,617.79 765.0,615.81 765.5,614.03 766.0,612.21 766.5,610.30 767.0,608.52 767.5,606.74 768.0,604.82 768.5,602.77 769.0,600.68 769.5,598.45 770.0,596.10 770.5,593.43 771.0,590.52 771.5,587.55 772.0,584.55 772.5,581.18 773.0,577.32 773.5,573.05 774.0,568.20 774.5,562.29 775.0,555.08 775.5,546.69 776.0,537.56 776.5,527.98 777.0,517.04 777.5,505.35 778.0,493.15 778.5,480.78 779.0,469.07 779.5,458.94 780.0,451.29 780.5,446.93 781.0,446.08 781.5,448.56 782.0,454.22 782.5,462.25 783.0,471.70 783.5,482.34 784.0,493.51 784.5,504.13 785.0,514.83 785.5,525.15 786.0,534.29 786.5,541.53 787.0,547.52 787.5,553.13 788.0,558.18 788.5,562.77 789.0,566.78 789.5,570.42 790.0,573.41 790.5,576.01 791.0,578.53 791.5,580.78 792.0,582.92 792.5,584.87 793.0,586.82 793.5,588.44 794.0,589.92 794.5,591.43 795.0,592.78 795.5,593.89 796.0,595.04 796.5,596.11 797.0,596.99 797.5,597.81 798.0,598.69 798.5,599.60 799.0,600.28 799.5,600.98 800.0,601.86 800.5,602.64 801.0,603.41 801.5,603.87 802.0,604.19 802.5,604.53 803.0,604.86 803.5,604.93 804.0,604.93 804.5,604.84 805.0,604.61 805.5,604.25 806.0,603.82 806.5,603.37 807.0,602.72 807.5,601.91 808.0,601.33 808.5,600.51 809.0,599.59 809.5,598.07 810.0,596.21 810.5,594.08 811.0,591.84 811.5,589.74 812.0,587.83 812.5,586.31 813.0,585.27 813.5,584.35 814.0,583.40 814.5,582.47 815.0,581.65 815.5,580.89 816.0,580.13 816.5,579.51 817.0,579.06 817.5,578.43 818.0,577.83 818.5,577.26 819.0,576.82 819.5,576.28 820.0,575.62 820.5,575.08 821.0,574.59 821.5,574.29 822.0,573.89 822.5,573.50 823.0,573.39 823.5,573.27 824.0,573.26 824.5,573.41 825.0,573.67 825.5,574.17 826.0,574.85 826.5,575.53 827.0,576.35 827.5,577.40 828.0,578.98 828.5,581.80 829.0,585.60 829.5,590.04 830.0,594.62 830.5,598.99 831.0,602.90 831.5,606.03 832.0,609.17 832.5,612.29 833.0,615.35 833.5,618.28 834.0,621.05 834.5,623.96 835.0,626.36 835.5,628.72 836.0,630.93 836.5,632.87 837.0,634.67 837.5,636.36 838.0,638.28 838.5,640.15 839.0,641.68 839.5,643.05 840.0,644.30 840.5,645.55 841.0,646.35 841.5,646.80 842.0,647.31 842.5,647.75 843.0,648.10 843.5,648.46 844.0,648.76 844.5,648.93 845.0,648.94 845.5,648.60 846.0,648.08 846.5,647.43 847.0,646.51 847.5,645.49 848.0,644.49 848.5,643.22 849.0,641.93 849.5,640.56 850.0,638.60 850.5,636.21 851.0,633.27 851.5,629.93 852.0,626.38 852.5,622.59 853.0,618.80 853.5,614.87 854.0,610.63 854.5,606.34 855.0,601.92 855.5,597.63 856.0,593.80 856.5,590.56 857.0,587.99 857.5,586.30 858.0,585.72 858.5,586.00 859.0,587.00 859.5,588.69 860.0,590.98 860.5,593.94 861.0,597.46 861.5,601.69 862.0,606.66 862.5,612.41 863.0,619.11 863.5,624.27 864.0,628.93 864.5,633.50 865.0,638.01 865.5,642.11 866.0,645.85 866.5,649.50 867.0,652.74 867.5,655.67 868.0,658.18 868.5,660.40 869.0,662.40 869.5,664.25 870.0,666.07 870.5,667.80 871.0,669.46 871.5,670.86 872.0,672.25 872.5,673.76 873.0,675.13 873.5,676.36 874.0,677.44 874.5,678.37 875.0,679.45 875.5,680.54 876.0,681.58 876.5,682.52 877.0,683.62 877.5,684.63 878.0,685.49 878.5,686.42 879.0,687.29 879.5,687.99 880.0,688.68 880.5,689.24 881.0,689.65 881.5,689.98 882.0,690.30 882.5,690.69 883.0,690.91 883.5,691.17 884.0,691.49 884.5,691.66 885.0,691.89 885.5,692.06 886.0,692.07 886.5,692.06 887.0,692.02 887.5,691.77 888.0,691.31 888.5,690.97 889.0,690.71 889.5,690.15 890.0,689.41 890.5,688.85 891.0,688.31 891.5,687.65 892.0,687.06 892.5,686.39 893.0,685.53 893.5,684.35 894.0,683.15 894.5,681.76 895.0,680.12 895.5,678.67 896.0,677.23 896.5,675.86 897.0,674.67 897.5,673.76 898.0,673.13 898.5,672.61 899.0,672.04 899.5,671.48 900.0,670.95 900.5,670.47 901.0,670.02 901.5,669.76 902.0,669.77 902.5,669.87 903.0,669.96 903.5,670.10 904.0,670.43 904.5,670.82 905.0,671.34 905.5,671.82 906.0,672.41 906.5,673.13 907.0,674.35 907.5,676.08 908.0,678.00 908.5,680.30 909.0,683.03 909.5,685.70 910.0,688.18 910.5,690.41 911.0,692.39 911.5,693.97 912.0,695.45 912.5,697.06 913.0,698.66 913.5,700.17 914.0,701.68 914.5,702.89 915.0,704.22 915.5,705.51 916.0,706.51 916.5,707.41 917.0,708.24 917.5,709.05 918.0,709.82 918.5,710.39 919.0,710.92 919.5,711.43 920.0,712.01 920.5,712.47 921.0,712.87 921.5,713.35 922.0,713.86 922.5,714.32 923.0,714.66 923.5,715.07 924.0,715.46 924.5,715.60 925.0,715.85 925.5,716.25 926.0,716.50 926.5,716.68 927.0,716.88 927.5,717.04 928.0,717.23 928.5,717.38 929.0,717.55 929.5,717.59 930.0,717.73 930.5,717.94 931.0,718.08 931.5,718.26 932.0,718.35 932.5,718.44 933.0,718.58 933.5,718.64 934.0,718.67 934.5,718.79 935.0,718.93 935.5,719.08 936.0,719.24 936.5,719.40 937.0,719.51 937.5,719.67 938.0,719.71 938.5,719.71 939.0,719.88 939.5,719.92 940.0,719.88 940.5,720.05 941.0,720.25 941.5,720.26 942.0,720.37 942.5,720.38 943.0,720.39 943.5,720.33 944.0,720.40 944.5,720.42 945.0,720.47 945.5,720.27 946.0,720.59 946.5,720.88 947.0,720.83 947.5,720.75 948.0,720.77 948.5,720.60 949.0,720.59 949.5,720.72 950.0,720.89 950.5,721.03 951.0,720.91 951.5,721.02 952.0,720.75 952.5,720.81 953.0,721.10 953.5,721.28 954.0,720.97 954.5,720.78 955.0,721.15 955.5,721.19 956.0,721.00 956.5,720.99 957.0,721.13 957.5,721.35 958.0,721.40 958.5,721.30 959.0,721.74 959.5,721.55 960.0,721.44 960.5,721.60 961.0,721.71 961.5,722.03 962.0,721.88 962.5,721.56 963.0,721.49 963.5,721.50 964.0,721.61 964.5,721.74 965.0,721.73 965.5,721.98 966.0,721.83 966.5,721.81 967.0,721.85 967.5,721.48 968.0,721.61 968.5,721.93 969.0,721.95 969.5,721.96 970.0,721.99 970.5,721.89 971.0,721.86 971.5,721.67 972.0,721.72 972.5,722.15 973.0,721.98 973.5,722.04 974.0,722.44 974.5,722.43 975.0,722.15 975.5,722.11 976.0,722.16 976.5,722.15 977.0,722.37 977.5,722.41 978.0,722.45 978.5,722.58 979.0,722.71 979.5,722.91 980.0,722.75 980.5,722.34 981.0,722.52 981.5,722.32 982.0,722.29 982.5,722.60 983.0,722.52 983.5,722.61 984.0,722.81 984.5,722.59 985.0,722.54 985.5,722.82 986.0,723.04 986.5,722.87 987.0,722.53 987.5,722.62 988.0,722.91 988.5,723.28 989.0,723.24 989.5,723.21 990.0,723.21 990.5,723.02 991.0,723.10 991.5,723.08 992.0,722.90 992.5,723.04 993.0,723.12 993.5,723.00 994.0,723.26 994.5,723.40 995.0,723.36 995.5,723.12 996.0,723.27 996.5,723.55 997.0,723.43 997.5,723.19 998.0,723.37 998.5,723.57 999.0,723.42 999.5,723.56 1000.0,723.85 1000.5,723.52 1001.0,723.32 1001.5,723.19 1002.0,723.34 1002.5,723.67 1003.0,723.46 1003.5,723.20 1004.0,723.25 1004.5,723.50 1005.0,723.62 1005.5,723.49 1006.0,723.60 1006.5,723.54 1007.0,723.64 1007.5,723.74 1008.0,723.71 1008.5,723.56 1009.0,723.60 1009.5,723.64 1010.0,723.45 1012.0,723.67 1014.0,723.89 1016.0,723.98 1018.0,723.85 1020.0,723.82 1022.0,723.85 1024.0,723.78 1026.0,723.90 1028.0,724.07 1030.0,724.04 1032.0,723.88 1034.0,723.85 1036.0,723.78 1038.0,724.15 1040.0,724.16 1042.0,724.17 1044.0,724.07 1046.0,724.23 1048.0,724.45 1050.0,724.46 1052.0,724.23 1054.0,724.45 1056.0,724.38 1058.0,724.31 1060.0,724.47 1062.0,724.42 1064.0,724.37 1066.0,724.36 1068.0,724.51 1070.0,724.53 1072.0,724.44 1074.0,724.32 1076.0,724.41 1078.0,724.66 1080.0,724.79 1082.0,724.69 1084.0,724.78 1086.0,724.54 1088.0,724.35 1090.0,724.48 1092.0,724.36 1094.0,724.52 1096.0,724.61 1098.0,724.39 1100.0,724.46 1102.0,724.77 1104.0,724.48 1106.0,724.34 1108.0,724.34 1110.0,724.17 1112.0,724.10 1114.0,723.97 1116.0,723.68 1118.0,724.00 1120.0,723.73 1122.0,723.62 1124.0,723.83 1126.0,723.70 1128.0,723.48 1130.0,723.53 1132.0,723.34 1134.0,723.24 1136.0,723.11 1138.0,723.20 1140.0,723.39 1142.0,723.37 1144.0,723.38 1146.0,723.39 1148.0,723.17 1150.0,722.98 1152.0,723.08 1154.0,723.31 1156.0,723.11 1158.0,723.00 1160.0,722.93 1162.0,722.94 1164.0,722.94 1166.0,722.83 1168.0,722.72 1170.0,722.57 1172.0,722.58 1174.0,722.81 1176.0,722.94 1178.0,722.94 1180.0,722.74 1182.0,722.64 1184.0,722.91 1186.0,722.97 1188.0,722.85 1190.0,723.27 1192.0,723.59 1194.0,723.76 1196.0,723.47 1198.0,723.54 1200.0,723.87 1202.0,723.69 1204.0,723.77 1206.0,723.80 1208.0,723.75 1210.0,723.72 1212.0,724.05 1214.0,724.36 1216.0,724.35 1218.0,724.29 1220.0,724.27 1222.0,724.51 1224.0,724.51 1226.0,724.41 1228.0,724.10 1230.0,724.21 1232.0,724.16 1234.0,724.35 1236.0,724.35 1238.0,724.20 1240.0,724.43 1242.0,724.66 1244.0,724.62 1246.0,724.52 1248.0,724.29 1250.0,724.23 1252.0,724.25 1254.0,724.52 1256.0,724.75 1258.0,724.67 1260.0,724.49 1262.0,724.37 1264.0,724.56 1266.0,724.44 1268.0,724.12 1270.0,724.15 1272.0,724.39 1274.0,724.54 1276.0,724.88 1278.0,724.68 1280.0,724.44 1282.0,724.61 1284.0,724.87 1286.0,724.66 1288.0,724.80 1290.0,724.92 1292.0,725.04 1294.0,724.88 1296.0,724.72 1298.0,724.82 1300.0,724.85 1302.0,724.93 1304.0,724.93 1306.0,725.12 1308.0,724.91 1310.0,724.83 1312.0,724.72 1314.0,724.79 1316.0,724.84 1318.0,724.91 1320.0,724.97 1322.0,724.75 1324.0,724.73 1326.0,724.98 1328.0,724.83 1330.0,724.80 1332.0,725.09 1334.0,724.93 1336.0,724.43 1338.0,724.71 1340.0,725.06 1342.0,725.07 1344.0,724.96 1346.0,725.11 1348.0,724.85 1350.0,724.84 1352.0,724.94 1354.0,724.99 1356.0,725.14 1358.0,725.17 1360.0,725.08 1362.0,725.15 1364.0,724.90 1366.0,724.98 1368.0,725.26 1370.0,725.15 1372.0,725.14 1374.0,724.94 1376.0,724.89 1378.0,724.95 1380.0,724.98 1382.0,724.93 1384.0,725.01 1386.0,725.18 1388.0,725.25 1390.0,725.12 1392.0,725.17 1394.0,725.13 1396.0,724.76 1398.0,724.75 1400.0,725.27 1402.0,725.34 1404.0,725.11 1406.0,725.01 1408.0,724.77 1410.0,724.72 1412.0,724.89 1414.0,724.81 1416.0,725.04 1418.0,724.96 1420.0,725.14 1422.0,725.49 1424.0,725.45 1426.0,725.14 1428.0,725.12 1430.0,724.85 1432.0,724.86 1434.0,725.12 1436.0,725.25 1438.0,725.02 1440.0,725.08 1442.0,724.98 1444.0,724.78 1446.0,725.00 1448.0,725.26 1450.0,725.11 1452.0,725.14 1454.0,725.14 1456.0,725.00 1458.0,725.27 1460.0,725.45 1462.0,725.46 1464.0,725.31 1466.0,724.97 1468.0,724.83 1470.0,724.78 1472.0,724.75 1474.0,724.87 1476.0,725.22 1478.0,725.29 1480.0,725.03 1482.0,725.04 1484.0,724.81 1486.0,724.81 1488.0,724.71 1490.0,724.66 1492.0,724.92 1494.0,725.00 1496.0,724.91 1498.0,724.83 1500.0,724.79 1502.0,724.89 1504.0,724.90 1506.0,724.94 1508.0,724.82 1510.0,725.00 1512.0,725.18 1514.0,725.32 1516.0,725.28 1518.0,725.06 1520.0,724.78 1522.0,724.63 1524.0,724.98 1526.0,725.36 1528.0,725.23 1530.0,724.60 1532.0,724.69 1534.0,724.83 1536.0,724.81 1538.0,724.98 1540.0,724.99 1542.0,724.91 1544.0,724.87 1546.0,724.66 1548.0,724.68 1550.0,724.84 1552.0,725.01 1554.0,724.75 1556.0,724.91 1558.0,725.13 1560.0,725.09 1562.0,725.11 1564.0,724.96 1566.0,725.10 1568.0,725.32 1570.0,725.50 1572.0,725.35 1574.0,725.30 1576.0,725.10 1578.0,725.12 1580.0,725.33 1582.0,725.29 1584.0,725.34 1586.0,725.34 1588.0,725.57 1590.0,725.51 1592.0,725.11 1594.0,725.31 1596.0,725.22 1598.0,725.11 1600.0,725.06 1602.0,725.06 1604.0,724.81 1606.0,724.76 1608.0,724.84 1610.0,725.07 1612.0,725.23 1614.0,725.22 1616.0,725.08 1618.0,724.82 1620.0,724.68 1622.0,724.98 1624.0,725.08 1626.0,725.17 1628.0,725.28 1630.0,725.05 1632.0,724.82 1634.0,724.61 1636.0,724.97 1638.0,724.99 1640.0,724.90 1642.0,724.97 1644.0,724.81 1646.0,724.97 1648.0,725.37 1650.0,725.32 1652.0,725.27 1654.0,725.24 1656.0,725.18 1658.0,725.22 1660.0,725.43 1662.0,725.18 1664.0,725.12 1666.0,724.99 1668.0,724.78 1670.0,724.43 1672.0,724.61 1674.0,725.26 1676.0,725.34 1678.0,725.02 1680.0,725.01 1682.0,725.05 1684.0,724.97 1686.0,725.20 1688.0,724.88 1690.0,724.65 1692.0,724.56 1694.0,725.12 1696.0,725.20 1698.0,725.24 1700.0,724.94 1702.0,725.01 1704.0,725.05 1706.0,725.17 1708.0,725.53 1710.0,725.62 1712.0,725.36 1714.0,725.07 1716.0,725.22 1718.0,725.33 1720.0,725.22 1722.0,725.17 1724.0,725.07 1726.0,724.89 1728.0,725.09 1730.0,725.25 1732.0,724.93 1734.0,725.01 1736.0,725.08 1738.0,724.80 1740.0,724.79 1742.0,724.65 1744.0,724.71 1746.0,724.66 1748.0,724.73 1750.0,724.84 1752.0,724.91 1754.0,724.80 1756.0,724.65 1758.0,725.13 1760.0,724.98 1762.0,724.75 1764.0,724.84 1766.0,724.96 1768.0,724.81 1770.0,724.84 1772.0,724.92 1774.0,725.02 1776.0,724.92 1778.0,725.06 1780.0,725.08 1782.0,725.07 1784.0,725.22 1786.0,725.01 1788.0,724.81 1790.0,724.99 1792.0,725.04 1794.0,725.01 1796.0,725.18 1798.0,725.45 1800.0,725.21 1802.0,725.08 1804.0,725.06 1806.0,725.22 1808.0,725.02 1810.0,724.78 1812.0,724.76 1814.0,725.07 1816.0,725.07 1818.0,724.72 1820.0,724.81 1822.0,725.13 1824.0,725.14 1826.0,724.80 1828.0,724.90 1830.0,725.09 1832.0,724.93 1832.5,724.89"/>
<path stroke="#0000ff" d="M63.5,470.27 65.5,470.45 67.5,470.77 69.5,470.59 71.5,470.23 73.5,470.38 75.5,470.43 77.5,470.45 79.5,470.31 81.5,470.56 83.5,470.76 85.5,470.95 87.5,470.83 89.5,470.69 91.5,470.58 93.5,470.90 95.5,470.57 97.5,470.79 99.5,470.69 101.5,470.54 103.5,470.56 105.5,470.64 107.5,470.81 109.5,470.89 111.5,470.96 113.5,470.58 115.5,470.67 117.5,470.72 119.5,470.81 121.5,470.50 123.5,470.69 125.5,470.80 127.5,470.68 129.5,470.98 131.5,471.04 133.5,471.14 135.5,471.07 137.5,470.73 139.5,470.69 141.5,470.86 143.5,471.08 145.5,471.06 147.5,470.79 149.5,470.71 151.5,470.69 153.5,470.74 155.5,470.82 157.5,470.99 159.5,471.23 161.5,470.90 163.5,470.82 165.5,470.87 167.5,470.69 169.5,470.72 171.5,470.85 173.5,470.87 175.5,470.68 177.5,470.92 179.5,470.78 181.5,470.79 183.5,470.92 185.5,470.93 187.5,470.91 189.5,470.74 191.5,470.66 193.5,470.61 195.5,470.50 197.5,470.68 199.5,470.41 201.5,470.38 203.5,470.80 205.5,470.52 207.5,470.36 209.5,470.70 211.5,470.56 213.5,470.55 215.5,470.31 217.5,470.21 219.5,469.96 221.5,469.88 223.5,470.08 225.5,470.34 227.5,470.65 229.5,470.79 231.5,470.47 233.5,470.84 235.5,471.14 237.5,471.48 239.5,471.61 241.5,471.70 243.5,471.85 245.5,471.94 247.5,472.13 249.5,472.24 251.5,472.52 253.5,472.48 255.5,472.51 257.5,472.69 259.5,472.64 261.5,472.53 263.5,472.52 265.5,472.61 267.5,472.83 269.5,472.85 271.5,472.81 273.5,472.81 275.5,472.68 277.5,472.69 279.5,472.60 281.5,472.92 283.5,472.88 285.5,472.87 287.5,472.92 289.5,472.84 291.5,472.86 293.5,473.05 295.5,472.89 297.5,472.73 299.5,472.79 301.5,472.70 303.5,473.07 305.5,472.96 307.5,473.03 309.5,473.44 311.5,473.43 313.5,473.09 315.5,473.09 317.5,473.24 319.5,473.27 321.5,472.99 323.5,473.00 325.5,473.15 327.5,473.06 329.5,473.08 331.5,472.97 333.5,472.65 335.5,472.48 337.5,472.30 339.5,472.70 341.5,472.97 343.5,472.75 345.5,473.00 347.5,473.02 349.5,472.80 351.5,472.73 353.5,472.67 355.5,472.52 357.5,472.57 359.5,472.66 361.5,472.79 363.5,472.75 365.5,472.56 367.5,472.63 369.5,472.46 371.5,472.48 373.5,472.57 375.5,472.51 377.5,472.48 379.5,472.48 381.5,472.33 383.5,472.28 385.5,472.41 387.5,472.57 389.5,472.56 391.5,472.74 393.5,472.36 395.5,471.83 397.5,472.21 399.5,472.64 401.5,472.44 403.5,472.23 405.5,472.27 407.5,472.63 409.5,472.70 411.5,472.63 413.5,472.66 415.5,472.82 417.5,472.68 419.5,472.43 421.5,472.67 423.5,472.70 425.5,472.70 427.5,472.83 429.5,472.60 430.0,472.30 430.5,472.91 431.0,473.02 431.5,472.78 432.0,472.70 432.5,472.71 433.0,472.58 433.5,472.75 434.0,472.74 434.5,472.66 435.0,472.57 435.5,472.69 436.0,473.04 436.5,473.14 437.0,472.98 437.5,472.78 438.0,472.70 438.5,472.99 439.0,473.05 439.5,472.69 440.0,472.80 440.5,472.48 441.0,472.65 441.5,472.78 442.0,472.50 442.5,472.47 443.0,472.81 443.5,472.95 444.0,472.86 444.5,472.98 445.0,472.85 445.5,473.08 446.0,472.95 446.5,472.89 447.0,472.94 447.5,473.00 448.0,473.28 448.5,473.33 449.0,473.01 449.5,472.72 450.0,472.51 450.5,472.57 451.0,472.72 451.5,472.75 452.0,472.75 452.5,472.78 453.0,472.76 453.5,472.47 454.0,472.54 454.5,472.92 455.0,472.91 455.5,472.75 456.0,472.86 456.5,472.62 457.0,472.46 457.5,472.33 458.0,472.63 458.5,472.66 459.0,472.74 459.5,472.65 460.0,472.47 460.5,472.46 461.0,472.51 461.5,472.27 462.0,472.15 462.5,472.16 463.0,472.22 463.5,472.22 464.0,472.15 464.5,471.78 465.0,471.64 465.5,471.30 466.0,471.24 466.5,471.20 467.0,471.28 467.5,471.02 468.0,470.76 468.5,470.84 469.0,470.84 469.5,470.81 470.0,470.88 470.5,471.19 471.0,471.88 471.5,471.93 472.0,472.05 472.5,471.97 473.0,472.13 473.5,472.50 474.0,472.75 474.5,472.94 475.0,472.88 475.5,473.23 476.0,473.46 476.5,473.30 477.0,473.48 477.5,473.43 478.0,473.64 478.5,473.88 479.0,474.04 479.5,473.78 480.0,473.87 480.5,473.96 481.0,473.68 481.5,473.69 482.0,473.59 482.5,473.62 483.0,473.84 483.5,474.00 484.0,474.21 484.5,474.05 485.0,473.82 485.5,473.49 486.0,473.34 486.5,473.21 487.0,472.98 487.5,473.35 488.0,473.09 488.5,472.87 489.0,472.99 489.5,473.25 490.0,473.27 490.5,473.02 491.0,473.01 491.5,472.89 492.0,472.74 492.5,472.86 493.0,472.79 493.5,472.63 494.0,472.83 494.5,472.60 495.0,472.67 495.5,472.54 496.0,472.49 496.5,472.59 497.0,472.72 497.5,472.50 498.0,472.66 498.5,472.88 499.0,472.61 499.5,472.62 500.0,472.69 500.5,472.56 501.0,472.59 501.5,472.51 502.0,472.63 502.5,472.53 503.0,472.43 503.5,472.69 504.0,472.53 504.5,472.35 505.0,472.23 505.5,472.28 506.0,472.37 506.5,472.48 507.0,472.50 507.5,472.16 508.0,472.26 508.5,472.52 509.0,472.42 509.5,472.46 510.0,472.59 510.5,472.43 511.0,472.33 511.5,472.34 512.0,472.57 512.5,472.43 513.0,472.13 513.5,472.13 514.0,472.02 514.5,472.28 515.0,472.27 515.5,472.06 516.0,471.87 516.5,471.74 517.0,472.04 517.5,472.01 518.0,471.96 518.5,472.03 519.0,471.82 519.5,471.72 520.0,471.79 520.5,471.80 521.0,471.97 521.5,471.84 522.0,471.76 522.5,471.72 523.0,471.50 523.5,471.59 524.0,471.61 524.5,471.54 525.0,471.50 525.5,471.35 526.0,471.39 526.5,471.35 527.0,471.08 527.5,471.00 528.0,471.02 528.5,470.94 529.0,470.82 529.5,470.76 530.0,470.62 530.5,470.41 531.0,470.31 531.5,470.12 532.0,469.89 532.5,469.80 533.0,469.88 533.5,469.80 534.0,469.71 534.5,469.41 535.0,469.29 535.5,469.23 536.0,469.09 536.5,468.99 537.0,468.82 537.5,468.57 538.0,468.31 538.5,468.26 539.0,468.27 539.5,468.07 540.0,467.81 540.5,467.43 541.0,467.10 541.5,466.76 542.0,466.46 542.5,466.07 543.0,465.68 543.5,465.24 544.0,464.59 544.5,464.02 545.0,463.35 545.5,462.78 546.0,462.03 546.5,461.27 547.0,460.53 547.5,459.74 548.0,458.74 548.5,457.69 549.0,456.64 549.5,455.63 550.0,454.46 550.5,453.04 551.0,451.16 551.5,448.80 552.0,445.98 552.5,442.99 553.0,439.69 553.5,436.02 554.0,432.52 554.5,428.87 555.0,425.01 555.5,420.72 556.0,416.25 556.5,412.13 557.0,408.34 557.5,405.18 558.0,402.82 558.5,401.67 559.0,401.71 559.5,402.92 560.0,405.36 560.5,408.67 561.0,412.50 561.5,416.71 562.0,420.96 562.5,424.83 563.0,428.19 563.5,431.34 564.0,434.33 564.5,437.21 565.0,439.95 565.5,442.51 566.0,444.82 566.5,446.80 567.0,448.60 567.5,449.96 568.0,451.25 568.5,452.41 569.0,453.40 569.5,454.57 570.0,455.60 570.5,456.36 571.0,457.16 571.5,457.87 572.0,458.50 572.5,459.03 573.0,459.48 573.5,459.92 574.0,460.20 574.5,460.41 575.0,460.71 575.5,460.92 576.0,461.05 576.5,461.18 577.0,461.48 577.5,461.56 578.0,461.44 578.5,461.54 579.0,461.72 579.5,461.89 580.0,461.92 580.5,461.82 581.0,461.78 581.5,461.71 582.0,461.52 582.5,461.47 583.0,461.31 583.5,461.15 584.0,460.92 584.5,460.63 585.0,460.41 585.5,460.24 586.0,460.00 586.5,459.63 587.0,459.11 587.5,458.26 588.0,457.28 588.5,456.28 589.0,455.17 589.5,453.98 590.0,452.77 590.5,451.43 591.0,450.10 591.5,448.68 592.0,447.16 592.5,445.60 593.0,443.82 593.5,441.91 594.0,439.80 594.5,437.59 595.0,435.15 595.5,432.54 596.0,429.74 596.5,426.22 597.0,421.64 597.5,416.33 598.0,410.52 598.5,404.20 599.0,397.54 599.5,390.82 600.0,384.06 600.5,376.58 601.0,368.97 601.5,361.12 602.0,353.49 602.5,346.33 603.0,339.74 603.5,334.18 604.0,330.04 604.5,327.51 605.0,326.64 605.5,327.54 606.0,330.18 606.5,334.48 607.0,340.16 607.5,346.67 608.0,353.93 608.5,361.49 609.0,369.21 609.5,376.83 610.0,384.11 610.5,390.42 611.0,396.95 611.5,403.10 612.0,408.99 612.5,414.40 613.0,419.12 613.5,423.24 614.0,426.65 614.5,429.73 615.0,432.64 615.5,435.45 616.0,437.99 616.5,440.29 617.0,442.53 617.5,444.31 618.0,445.71 618.5,447.12 619.0,448.36 619.5,449.28 620.0,449.95 620.5,450.55 621.0,451.31 621.5,452.04 622.0,452.57 622.5,453.02 623.0,453.52 623.5,454.08 624.0,454.52 624.5,455.01 625.0,455.54 625.5,456.06 626.0,456.42 626.5,456.75 627.0,457.07 627.5,457.61 628.0,458.04 628.5,458.31 629.0,458.55 629.5,458.95 630.0,459.32 630.5,459.66 631.0,459.80 631.5,459.94 632.0,460.07 632.5,460.09 633.0,459.90 633.5,459.74 634.0,459.59 634.5,459.44 635.0,459.25 635.5,458.92 636.0,458.39 636.5,457.83 637.0,457.21 637.5,456.67 638.0,455.90 638.5,455.22 639.0,454.29 639.5,453.20 640.0,452.33 640.5,451.38 641.0,450.38 641.5,449.58 642.0,448.68 642.5,447.69 643.0,446.58 643.5,445.44 644.0,444.16 644.5,442.61 645.0,440.86 645.5,438.25 646.0,434.43 646.5,429.98 647.0,425.34 647.5,421.39 648.0,418.24 648.5,415.69 649.0,413.13 649.5,410.73 650.0,408.94 650.5,407.51 651.0,407.06 651.5,407.45 652.0,408.41 652.5,409.71 653.0,411.42 653.5,413.52 654.0,415.67 654.5,418.08 655.0,420.46 655.5,423.23 656.0,426.53 656.5,430.28 657.0,434.22 657.5,438.06 658.0,441.56 658.5,444.40 659.0,446.29 659.5,448.04 660.0,449.65 660.5,451.25 661.0,452.67 661.5,453.87 662.0,455.04 662.5,456.12 663.0,457.04 663.5,457.75 664.0,458.21 664.5,458.61 665.0,459.07 665.5,459.67 666.0,460.14 666.5,460.48 667.0,460.83 667.5,461.03 668.0,461.33 668.5,461.69 669.0,461.86 669.5,462.17 670.0,462.43 670.5,462.69 671.0,462.98 671.5,463.09 672.0,463.27 672.5,463.45 673.0,463.77 673.5,464.11 674.0,464.41 674.5,464.71 675.0,465.00 675.5,465.18 676.0,465.37 676.5,465.75 677.0,466.02 677.5,466.15 678.0,466.40 678.5,466.76 679.0,466.94 679.5,467.05 680.0,467.12 680.5,467.15 681.0,467.21 681.5,467.34 682.0,467.38 682.5,467.43 683.0,467.52 683.5,467.62 684.0,467.71 684.5,467.74 685.0,467.92 685.5,467.81 686.0,467.86 686.5,467.98 687.0,467.94 687.5,467.98 688.0,468.00 688.5,467.90 689.0,468.03 689.5,468.12 690.0,468.23 690.5,468.35 691.0,468.44 691.5,468.55 692.0,468.61 692.5,468.61 693.0,468.60 693.5,468.66 694.0,468.62 694.5,468.74 695.0,468.93 695.5,468.95 696.0,468.88 696.5,469.00 697.0,469.19 697.5,469.28 698.0,469.28 698.5,469.13 699.0,469.13 699.5,469.19 700.0,469.17 700.5,469.19 701.0,469.19 701.5,469.15 702.0,469.09 702.5,469.07 703.0,469.02 703.5,468.87 704.0,468.74 704.5,468.79 705.0,468.70 705.5,468.59 706.0,468.42 706.5,468.21 707.0,468.15 707.5,467.94 708.0,467.76 708.5,467.72 709.0,467.49 709.5,467.32 710.0,467.20 710.5,466.99 711.0,466.56 711.5,466.36 712.0,466.21 712.5,465.82 713.0,465.42 713.5,465.33 714.0,465.15 714.5,464.90 715.0,464.57 715.5,464.24 716.0,463.99 716.5,463.70 717.0,463.40 717.5,463.16 718.0,462.87 718.5,462.53 719.0,462.35 719.5,462.09 720.0,461.69 720.5,461.18 721.0,460.98 721.5,460.67 722.0,460.29 722.5,459.98 723.0,459.55 723.5,459.29 724.0,458.87 724.5,458.41 725.0,458.06 725.5,457.57 726.0,457.02 726.5,456.44 727.0,456.02 727.5,455.55 728.0,454.88 728.5,454.11 729.0,453.55 729.5,452.85 730.0,451.94 730.5,450.92 731.0,449.86 731.5,448.55 732.0,446.79 732.5,444.86 733.0,442.96 733.5,441.34 734.0,440.35 734.5,439.58 735.0,438.86 735.5,438.30 736.0,437.67 736.5,437.33 737.0,437.13 737.5,437.04 738.0,437.38 738.5,437.82 739.0,438.38 739.5,439.09 740.0,439.88 740.5,440.50 741.0,440.81 741.5,441.22 742.0,441.54 742.5,441.81 743.0,442.14 743.5,442.44 744.0,442.70 744.5,442.92 745.0,443.04 745.5,443.28 746.0,443.27 746.5,443.10 747.0,443.00 747.5,443.07 748.0,443.09 748.5,443.12 749.0,443.12 749.5,443.10 750.0,442.93 750.5,442.85 751.0,442.70 751.5,442.63 752.0,442.63 752.5,442.45 753.0,442.30 753.5,442.18 754.0,442.11 754.5,442.00 755.0,441.79 755.5,441.56 756.0,441.35 756.5,440.98 757.0,440.60 757.5,440.21 758.0,439.67 758.5,439.06 759.0,438.71 759.5,438.20 760.0,437.71 760.5,437.13 761.0,436.34 761.5,435.74 762.0,435.24 762.5,434.65 763.0,433.92 763.5,433.26 764.0,432.63 764.5,431.84 765.0,431.18 765.5,430.50 766.0,429.71 766.5,428.98 767.0,428.16 767.5,427.30 768.0,426.60 768.5,425.90 769.0,425.17 769.5,424.50 770.0,423.88 770.5,423.26 771.0,422.64 771.5,421.99 772.0,421.34 772.5,420.63 773.0,419.87 773.5,419.04 774.0,417.88 774.5,416.72 775.0,414.94 775.5,412.72 776.0,410.16 776.5,407.31 777.0,404.10 777.5,400.26 778.0,396.12 778.5,391.71 779.0,387.22 779.5,382.94 780.0,379.35 780.5,376.99 781.0,376.20 781.5,376.86 782.0,378.81 782.5,381.66 783.0,384.97 783.5,388.38 784.0,391.72 784.5,394.77 785.0,397.38 785.5,399.79 786.0,401.74 786.5,403.38 787.0,404.82 787.5,406.08 788.0,407.18 788.5,408.18 789.0,409.14 789.5,409.78 790.0,410.08 790.5,410.58 791.0,410.89 791.5,411.10 792.0,411.30 792.5,411.34 793.0,411.11 793.5,410.86 794.0,410.66 794.5,410.29 795.0,409.93 795.5,409.62 796.0,409.07 796.5,408.41 797.0,407.78 797.5,407.19 798.0,406.58 798.5,405.92 799.0,405.16 799.5,404.24 800.0,403.28 800.5,402.41 801.0,401.33 801.5,400.11 802.0,398.92 802.5,397.77 803.0,396.49 803.5,395.08 804.0,393.54 804.5,392.04 805.0,390.16 805.5,388.37 806.0,386.50 806.5,384.33 807.0,381.92 807.5,379.56 808.0,377.04 808.5,374.22 809.0,371.15 809.5,367.56 810.0,363.23 810.5,358.73 811.0,354.08 811.5,349.58 812.0,345.43 812.5,341.60 813.0,337.98 813.5,334.88 814.0,332.23 814.5,329.96 815.0,328.33 815.5,327.31 816.0,326.89 816.5,327.07 817.0,327.52 817.5,328.12 818.0,328.74 818.5,329.21 819.0,329.65 819.5,330.18 820.0,330.60 820.5,330.95 821.0,331.48 821.5,331.74 822.0,331.84 822.5,332.19 823.0,332.54 823.5,332.58 824.0,332.62 824.5,332.65 825.0,332.66 825.5,332.78 826.0,333.29 826.5,334.26 827.0,335.42 827.5,336.70 828.0,337.85 828.5,338.97 829.0,340.19 829.5,341.36 830.0,342.56 830.5,343.83 831.0,344.68 831.5,345.34 832.0,345.87 832.5,346.43 833.0,347.09 833.5,347.47 834.0,347.96 834.5,348.38 835.0,348.75 835.5,349.07 836.0,349.28 836.5,349.38 837.0,349.67 837.5,349.75 838.0,349.95 838.5,349.95 839.0,349.82 839.5,349.61 840.0,349.27 840.5,348.92 841.0,348.48 841.5,347.86 842.0,347.14 842.5,346.45 843.0,345.45 843.5,343.99 844.0,341.96 844.5,339.60 845.0,337.10 845.5,334.45 846.0,331.77 846.5,328.97 847.0,325.92 847.5,322.51 848.0,318.73 848.5,314.62 849.0,310.08 849.5,305.16 850.0,299.78 850.5,293.89 851.0,287.02 851.5,279.06 852.0,269.60 852.5,259.05 853.0,244.98 853.5,227.02 854.0,208.15 854.5,190.88 855.0,175.99 855.5,162.97 856.0,152.30 856.5,144.08 857.0,138.80 857.5,136.69 858.0,137.91 858.5,142.53 859.0,150.62 859.5,161.41 860.0,174.39 860.5,188.78 861.0,204.21 861.5,219.65 862.0,236.07 862.5,252.98 863.0,269.33 863.5,284.20 864.0,296.20 864.5,304.58 865.0,310.36 865.5,315.43 866.0,320.07 866.5,324.10 867.0,327.63 867.5,330.77 868.0,333.81 868.5,336.73 869.0,339.59 869.5,342.37 870.0,345.50 870.5,348.67 871.0,351.62 871.5,354.60 872.0,357.65 872.5,360.47 873.0,363.23 873.5,365.84 874.0,368.31 874.5,370.51 875.0,372.59 875.5,374.81 876.0,376.91 876.5,379.01 877.0,380.99 877.5,382.97 878.0,384.67 878.5,386.31 879.0,387.74 879.5,388.87 880.0,389.80 880.5,390.51 881.0,391.12 881.5,391.74 882.0,392.03 882.5,392.33 883.0,392.76 883.5,393.09 884.0,393.19 884.5,393.04 885.0,392.68 885.5,392.20 886.0,391.90 886.5,391.49 887.0,390.78 887.5,390.08 888.0,389.52 888.5,388.64 889.0,387.58 889.5,386.81 890.0,385.90 890.5,385.00 891.0,384.19 891.5,383.08 892.0,381.83 892.5,380.63 893.0,379.37 893.5,377.84 894.0,376.37 894.5,374.71 895.0,373.02 895.5,371.09 896.0,368.84 896.5,366.03 897.0,362.66 897.5,359.02 898.0,355.21 898.5,351.72 899.0,348.71 899.5,346.27 900.0,343.57 900.5,341.07 901.0,339.01 901.5,337.47 902.0,336.87 902.5,337.13 903.0,337.96 903.5,339.32 904.0,341.12 904.5,343.50 905.0,346.63 905.5,350.14 906.0,354.34 906.5,358.98 907.0,364.27 907.5,369.89 908.0,376.29 908.5,381.12 909.0,385.49 909.5,389.75 910.0,393.71 910.5,397.36 911.0,400.64 911.5,403.84 912.0,406.99 912.5,409.72 913.0,412.18 913.5,414.48 914.0,416.63 914.5,418.74 915.0,420.79 915.5,422.66 916.0,424.47 916.5,426.08 917.0,427.63 917.5,429.27 918.0,430.81 918.5,432.20 919.0,433.60 919.5,434.96 920.0,436.32 920.5,437.58 921.0,438.72 921.5,439.76 922.0,440.95 922.5,442.13 923.0,443.15 923.5,444.15 924.0,445.17 924.5,446.26 925.0,447.25 925.5,448.20 926.0,449.09 926.5,450.04 927.0,450.72 927.5,451.39 928.0,452.19 928.5,452.94 929.0,453.58 929.5,454.03 930.0,454.48 930.5,454.97 931.0,455.37 931.5,455.76 932.0,456.37 932.5,456.85 933.0,457.12 933.5,457.47 934.0,457.90 934.5,458.29 935.0,458.72 935.5,459.04 936.0,459.39 936.5,459.61 937.0,459.87 937.5,460.17 938.0,460.52 938.5,460.96 939.0,461.29 939.5,461.52 940.0,461.70 940.5,461.65 941.0,462.20 941.5,462.34 942.0,462.95 942.5,463.36 943.0,463.21 943.5,463.34 944.0,463.42 944.5,463.22 945.0,463.30 945.5,463.58 946.0,463.93 946.5,464.19 947.0,464.28 947.5,464.44 948.0,464.26 948.5,464.19 949.0,464.51 949.5,464.60 950.0,464.60 950.5,464.94 951.0,464.84 951.5,464.91 952.0,465.11 952.5,465.13 953.0,465.43 953.5,465.59 954.0,465.64 954.5,465.61 955.0,465.56 955.5,465.62 956.0,465.94 956.5,466.24 957.0,466.25 957.5,466.24 958.0,466.42 958.5,466.43 959.0,466.12 959.5,466.33 960.0,466.58 960.5,466.39 961.0,466.44 961.5,466.66 962.0,466.72 962.5,466.90 963.0,466.82 963.5,467.07 964.0,467.46 964.5,467.23 965.0,466.76 965.5,466.72 966.0,466.86 966.5,467.01 967.0,467.00 967.5,467.41 968.0,467.79 968.5,467.75 969.0,467.39 969.5,467.39 970.0,467.44 970.5,467.55 971.0,467.90 971.5,467.64 972.0,467.56 972.5,467.86 973.0,468.07 973.5,468.34 974.0,468.36 974.5,467.98 975.0,467.74 975.5,468.20 976.0,468.51 976.5,468.54 977.0,468.05 977.5,468.14 978.0,468.72 978.5,468.93 979.0,468.84 979.5,468.71 980.0,468.80 980.5,468.55 981.0,468.43 981.5,468.66 982.0,468.86 982.5,469.06 983.0,469.03 983.5,468.69 984.0,468.95 984.5,469.05 985.0,468.84 985.5,468.98 986.0,469.17 986.5,469.22 987.0,469.07 987.5,469.05 988.0,469.10 988.5,469.33 989.0,469.32 989.5,469.35 990.0,469.55 990.5,469.45 991.0,469.40 991.5,469.79 992.0,469.91 992.5,469.75 993.0,469.62 993.5,469.85 994.0,469.63 994.5,469.43 995.0,469.83 995.5,470.18 996.0,469.99 996.5,470.12 997.0,470.29 997.5,470.12 998.0,470.01 998.5,470.10 999.0,470.19 999.5,470.11 1000.0,470.24 1000.5,470.31 1001.0,470.24 1001.5,470.41 1002.0,470.42 1002.5,470.28 1003.0,470.30 1003.5,470.37 1004.0,470.36 1004.5,470.31 1005.0,470.25 1005.5,470.47 1006.0,470.67 1006.5,470.62 1007.0,470.46 1007.5,470.65 1008.0,470.67 1008.5,470.51 1009.0,470.66 1009.5,470.63 1010.0,470.61 1012.0,470.78 1014.0,470.70 1016.0,470.55 1018.0,470.88 1020.0,470.94 1022.0,471.18 1024.0,471.41 1026.0,471.36 1028.0,471.39 1030.0,471.58 1032.0,471.68 1034.0,471.55 1036.0,471.65 1038.0,472.01 1040.0,472.25 1042.0,472.15 1044.0,472.18 1046.0,472.05 1048.0,472.16 1050.0,472.19 1052.0,472.08 1054.0,472.27 1056.0,472.22 1058.0,471.98 1060.0,472.35 1062.0,472.60 1064.0,472.65 1066.0,472.61 1068.0,472.40 1070.0,472.44 1072.0,472.54 1074.0,472.49 1076.0,472.63 1078.0,472.84 1080.0,472.60 1082.0,472.70 1084.0,473.00 1086.0,472.73 1088.0,472.53 1090.0,472.70 1092.0,472.76 1094.0,472.64 1096.0,472.44 1098.0,472.68 1100.0,472.92 1102.0,473.14 1104.0,472.93 1106.0,472.70 1108.0,472.79 1110.0,472.85 1112.0,472.73 1114.0,472.79 1116.0,473.00 1118.0,472.93 1120.0,472.79 1122.0,472.61 1124.0,472.64 1126.0,472.49 1128.0,472.81 1130.0,472.76 1132.0,472.91 1134.0,472.96 1136.0,472.70 1138.0,472.90 1140.0,472.92 1142.0,472.94 1144.0,472.71 1146.0,472.68 1148.0,472.96 1150.0,472.90 1152.0,472.71 1154.0,472.63 1156.0,472.90 1158.0,472.75 1160.0,472.65 1162.0,472.61 1164.0,472.75 1166.0,472.85 1168.0,472.77 1170.0,472.70 1172.0,472.73 1174.0,473.08 1176.0,473.11 1178.0,472.74 1180.0,472.59 1182.0,472.64 1184.0,472.49 1186.0,472.71 1188.0,472.82 1190.0,472.88 1192.0,473.14 1194.0,473.19 1196.0,472.91 1198.0,472.77 1200.0,472.97 1202.0,472.94 1204.0,472.56 1206.0,472.53 1208.0,472.56 1210.0,472.37 1212.0,472.54 1214.0,472.89 1216.0,472.67 1218.0,472.77 1220.0,472.71 1222.0,472.89 1224.0,472.91 1226.0,472.84 1228.0,472.57 1230.0,472.68 1232.0,472.68 1234.0,472.78 1236.0,472.70 1238.0,472.44 1240.0,472.18 1242.0,472.01 1244.0,471.82 1246.0,471.51 1248.0,471.28 1250.0,471.05 1252.0,470.95 1254.0,471.05 1256.0,470.84 1258.0,471.12 1260.0,471.10 1262.0,470.78 1264.0,470.94 1266.0,471.46 1268.0,471.73 1270.0,472.22 1272.0,472.69 1274.0,472.86 1276.0,472.94 1278.0,473.16 1280.0,473.42 1282.0,473.35 1284.0,473.66 1286.0,473.72 1288.0,473.38 1290.0,473.47 1292.0,473.64 1294.0,473.39 1296.0,473.51 1298.0,473.59 1300.0,473.36 1302.0,473.50 1304.0,473.52 1306.0,473.54 1308.0,473.79 1310.0,473.77 1312.0,474.03 1314.0,473.83 1316.0,473.57 1318.0,473.61 1320.0,473.60 1322.0,473.82 1324.0,473.80 1326.0,473.52 1328.0,473.62 1330.0,473.81 1332.0,473.74 1334.0,473.67 1336.0,474.01 1338.0,474.02 1340.0,473.72 1342.0,473.88 1344.0,473.56 1346.0,473.66 1348.0,473.70 1350.0,473.74 1352.0,473.81 1354.0,473.69 1356.0,473.91 1358.0,474.22 1360.0,474.18 1362.0,474.26 1364.0,474.08 1366.0,473.81 1368.0,474.22 1370.0,474.25 1372.0,474.11 1374.0,473.91 1376.0,473.80 1378.0,473.76 1380.0,473.91 1382.0,474.00 1384.0,473.97 1386.0,473.86 1388.0,473.62 1390.0,473.73 1392.0,473.86 1394.0,474.01 1396.0,473.95 1398.0,473.94 1400.0,474.00 1402.0,473.95 1404.0,474.04 1406.0,474.22 1408.0,474.04 1410.0,473.93 1412.0,474.17 1414.0,474.29 1416.0,474.16 1418.0,473.94 1420.0,474.18 1422.0,474.16 1424.0,474.12 1426.0,474.15 1428.0,474.22 1430.0,474.31 1432.0,474.41 1434.0,474.24 1436.0,474.16 1438.0,474.23 1440.0,474.21 1442.0,474.33 1444.0,474.27 1446.0,474.25 1448.0,474.16 1450.0,474.33 1452.0,474.27 1454.0,474.03 1456.0,474.05 1458.0,474.08 1460.0,473.88 1462.0,473.94 1464.0,474.23 1466.0,474.38 1468.0,474.38 1470.0,474.02 1472.0,473.94 1474.0,473.92 1476.0,474.31 1478.0,474.06 1480.0,474.20 1482.0,474.62 1484.0,474.53 1486.0,474.28 1488.0,474.59 1490.0,474.38 1492.0,474.09 1494.0,474.25 1496.0,474.40 1498.0,474.26 1500.0,474.01 1502.0,474.35 1504.0,474.06 1506.0,474.20 1508.0,474.51 1510.0,474.41 1512.0,474.24 1514.0,474.19 1516.0,474.41 1518.0,474.51 1520.0,474.28 1522.0,474.30 1524.0,474.22 1526.0,474.07 1528.0,473.92 1530.0,474.27 1532.0,474.47 1534.0,474.39 1536.0,474.49 1538.0,474.47 1540.0,474.55 1542.0,474.39 1544.0,474.24 1546.0,474.22 1548.0,474.33 1550.0,474.34 1552.0,474.21 1554.0,474.19 1556.0,474.03 1558.0,474.07 1560.0,474.41 1562.0,474.51 1564.0,474.54 1566.0,474.45 1568.0,474.52 1570.0,474.65 1572.0,474.35 1574.0,474.47 1576.0,474.78 1578.0,474.85 1580.0,474.59 1582.0,474.34 1584.0,474.19 1586.0,474.31 1588.0,474.41 1590.0,474.43 1592.0,474.52 1594.0,474.50 1596.0,474.30 1598.0,474.20 1600.0,474.33 1602.0,474.56 1604.0,474.62 1606.0,474.29 1608.0,474.49 1610.0,474.49 1612.0,474.70 1614.0,474.84 1616.0,474.55 1618.0,474.23 1620.0,474.31 1622.0,474.45 1624.0,474.39 1626.0,474.36 1628.0,474.28 1630.0,474.32 1632.0,474.37 1634.0,474.57 1636.0,474.59 1638.0,474.50 1640.0,474.18 1642.0,474.24 1644.0,474.27 1646.0,474.29 1648.0,474.24 1650.0,474.37 1652.0,474.67 1654.0,474.43 1656.0,474.21 1658.0,474.47 1660.0,474.88 1662.0,474.67 1664.0,474.34 1666.0,474.37 1668.0,474.45 1670.0,474.37 1672.0,474.11 1674.0,474.20 1676.0,474.30 1678.0,474.17 1680.0,474.36 1682.0,474.53 1684.0,474.69 1686.0,474.71 1688.0,474.53 1690.0,474.56 1692.0,474.68 1694.0,474.71 1696.0,474.53 1698.0,474.41 1700.0,474.61 1702.0,474.69 1704.0,474.61 1706.0,474.70 1708.0,474.79 1710.0,474.47 1712.0,474.30 1714.0,474.31 1716.0,474.57 1718.0,474.67 1720.0,474.59 1722.0,474.77 1724.0,474.54 1726.0,474.53 1728.0,474.60 1730.0,474.72 1732.0,474.59 1734.0,474.76 1736.0,474.52 1738.0,474.26 1740.0,474.35 1742.0,474.57 1744.0,474.79 1746.0,474.55 1748.0,474.63 1750.0,474.90 1752.0,474.65 1754.0,474.40 1756.0,474.29 1758.0,474.25 1760.0,474.58 1762.0,474.75 1764.0,474.49 1766.0,474.35 1768.0,474.53 1770.0,474.55 1772.0,474.54 1774.0,474.61 1776.0,474.55 1778.0,474.54 1780.0,474.58 1782.0,474.21 1784.0,474.22 1786.0,474.35 1788.0,474.38 1790.0,474.60 1792.0,474.29 1794.0,474.57 1796.0,474.70 1798.0,474.65 1800.0,474.60 1802.0,474.42 1804.0,474.46 1806.0,474.73 1808.0,474.51 1810.0,474.21 1812.0,474.15 1814.0,474.22 1816.0,474.56 1818.0,474.73 1820.0,474.56 1822.0,474.52 1824.0,474.51 1826.0,474.72 1828.0,474.80 1830.0,474.86 1832.0,474.84 1832.5,474.44"/>
</g>
</g>
<g fill="none" stroke="#0b4a8f" stroke-width="3.3" stroke-dasharray="15 11.275 3.75 11.275">
<line x1="472.9" y1="100.4" x2="693.4" y2="100.4" stroke-dashoffset="0.00"/>
<line x1="471.25" y1="1380.3" x2="693.4" y2="1380.3" stroke-dashoffset="27.65"/>
<line x1="472.9" y1="100.4" x2="472.9" y2="1381.95" stroke-dashoffset="30.90"/>
<line x1="693.4" y1="100.4" x2="693.4" y2="1380.3" stroke-dashoffset="13.80"/>
</g>
<g fill="none" stroke="#000" stroke-width="3.3" stroke-dasharray="15 11.3">
<line x1="691.75" y1="100.4" x2="969.05" y2="100.4" stroke-dashoffset="0.00"/>
<line x1="691.75" y1="1380.3" x2="969.05" y2="1380.3" stroke-dashoffset="1.25"/>
<line x1="693.4" y1="100.4" x2="693.4" y2="1380.3" stroke-dashoffset="11.70"/>
<line x1="967.4" y1="100.4" x2="967.4" y2="1380.3" stroke-dashoffset="10.30"/>
</g>
<g filter="url(#soft)">
<g fill="#000">
<rect x="58.10" y="1433.3" width="1778.60" height="5"/>
<rect x="58.25" y="1435" width="5.5" height="29"/>
<rect x="184.93" y="1435" width="5.5" height="14.7"/>
<rect x="311.60" y="1435" width="5.5" height="29"/>
<rect x="438.28" y="1435" width="5.5" height="14.7"/>
<rect x="564.95" y="1435" width="5.5" height="29"/>
<rect x="691.62" y="1435" width="5.5" height="14.7"/>
<rect x="818.30" y="1435" width="5.5" height="29"/>
<rect x="944.97" y="1435" width="5.5" height="14.7"/>
<rect x="1071.65" y="1435" width="5.5" height="29"/>
<rect x="1198.33" y="1435" width="5.5" height="14.7"/>
<rect x="1325.00" y="1435" width="5.5" height="29"/>
<rect x="1451.67" y="1435" width="5.5" height="14.7"/>
<rect x="1578.35" y="1435" width="5.5" height="29"/>
<rect x="1705.02" y="1435" width="5.5" height="14.7"/>
</g>
<text transform="translate(62.0,1542.6) scale(1,1.03)" font-size="76.0" fill="#000" text-anchor="middle">1.2</text>
<text transform="translate(316.4,1542.6) scale(1,1.03)" font-size="76.0" fill="#000" text-anchor="middle">1.1</text>
<text transform="translate(570.7,1542.6) scale(1,1.03)" font-size="76.0" fill="#000" text-anchor="middle">1</text>
<text transform="translate(822.0,1542.6) scale(1,1.03)" font-size="76.0" fill="#000" text-anchor="middle">0.9</text>
<text transform="translate(1075.4,1542.6) scale(1,1.03)" font-size="76.0" fill="#000" text-anchor="middle">0.8</text>
<text transform="translate(1328.8,1542.6) scale(1,1.03)" font-size="76.0" fill="#000" text-anchor="middle">0.7</text>
<text transform="translate(1582.1,1542.6) scale(1,1.03)" font-size="76.0" fill="#000" text-anchor="middle">0.6</text>
<text transform="translate(1680,1542.4) scale(1,1.0)" font-size="81" fill="#000" text-anchor="start">ppm</text>
<text transform="translate(105.0,507.6) scale(1,1.04)" font-size="81.2" fill="#0000ff" text-anchor="start">O3</text>
<text transform="translate(106.4,782.8) scale(1,1.04)" font-size="81.2" fill="#008a00" text-anchor="start">H3</text>
<text transform="translate(104.6,1045.0) scale(1,1.04)" font-size="81.2" fill="#ff0000" text-anchor="start">B3</text>
<text transform="translate(108.0,1319.5) scale(1,1.04)" font-size="81.2" fill="#000" x="0 57.7">P1</text>
<g fill="#fff">
<rect x="13.5" y="1535.8" width="14.3" height="9"/><rect x="35.2" y="1535.8" width="14.3" height="9"/>
<rect x="267.5" y="1535.8" width="14.3" height="9"/><rect x="289.2" y="1535.8" width="14.3" height="9"/>
<rect x="331.5" y="1535.8" width="14.3" height="9"/><rect x="353.2" y="1535.8" width="14.3" height="9"/>
<rect x="553.5" y="1535.8" width="15.3" height="9"/><rect x="575.2" y="1535.8" width="14.3" height="9"/>
<rect x="170.0" y="1312.9" width="16.2" height="9"/><rect x="193.7" y="1312.9" width="14.3" height="9"/>
</g>
<text class="cal" x="559.5" y="76.7" textLength="47.5" lengthAdjust="spacingAndGlyphs" style="font-size:79px">B</text>
<text class="cal" x="748.5" y="76.7" textLength="160" lengthAdjust="spacingAndGlyphs" style="font-size:79px">H+O</text>
<text class="cal" transform="translate(0,237.6) scale(0.985,1)" x="1211.7 1254.5 1290.4 1323.6 1363.4 1382.6 1406.7 1424.9 1462.5 1472.5 1520.0 1539.2 1579.8 1604.2 1622.8" y="0" style="font-size:66.5px">Resulting ratio</text>
<text class="cal" x="1286.5" y="329.2" textLength="274.5" lengthAdjust="spacingAndGlyphs" style="font-size:66.5px">B : (H+O)</text>
<text class="cal" x="1290" y="484.1" textLength="224" lengthAdjust="spacingAndGlyphs" style="font-size:66.8px">1 : 4.01</text>
<text class="cal" x="1290" y="757.6" textLength="224" lengthAdjust="spacingAndGlyphs" style="font-size:66.8px">1 : 3.98</text>
<text class="cal" x="1290" y="1022.7" textLength="224" lengthAdjust="spacingAndGlyphs" style="font-size:66.8px">3 : 2.05</text>
<text class="cal" x="1290" y="1307.6" textLength="224" lengthAdjust="spacingAndGlyphs" style="font-size:66.8px">1 : 1.98</text>
</g>
</svg>
</body></html>
